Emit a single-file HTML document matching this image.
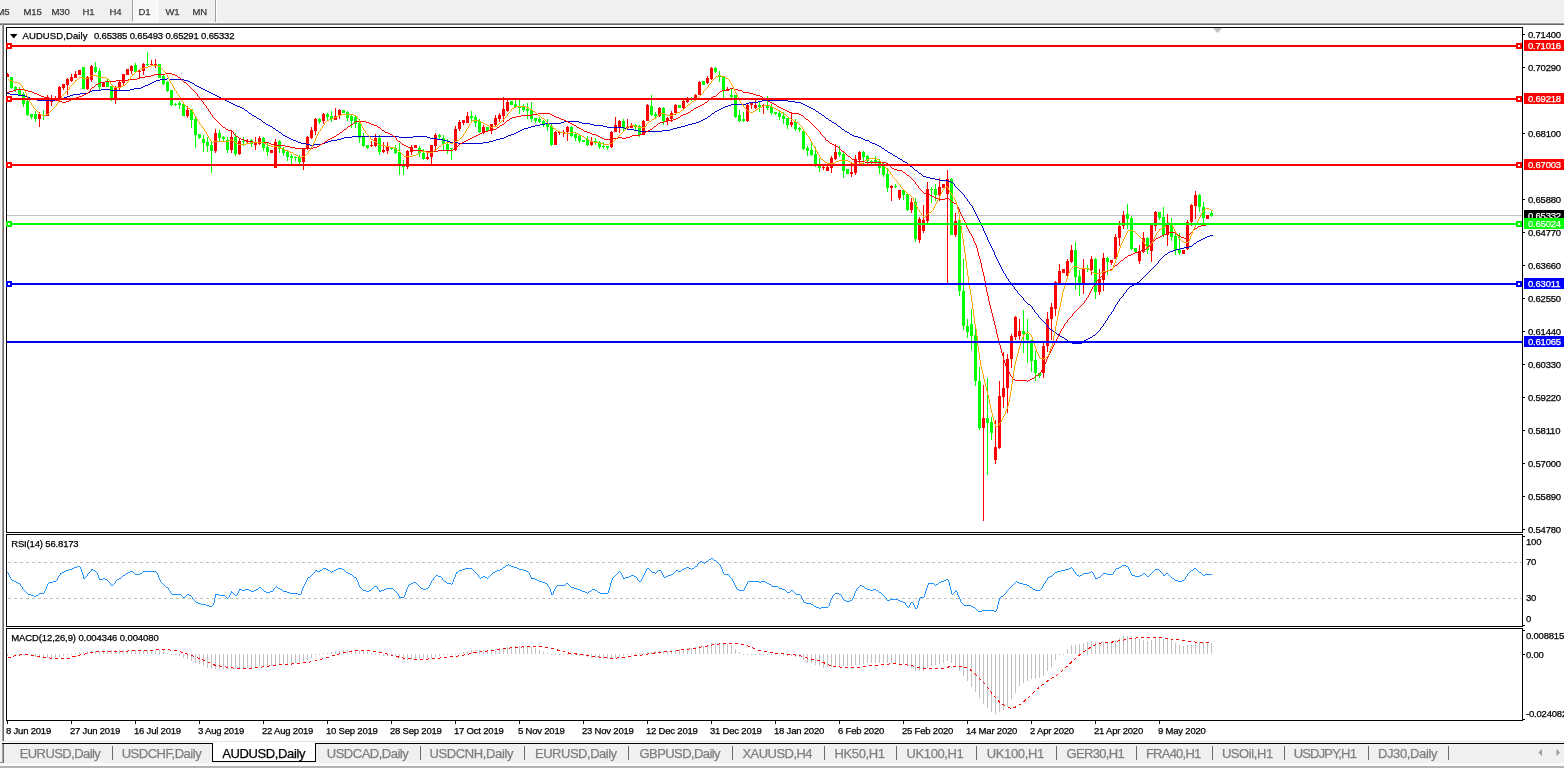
<!DOCTYPE html>
<html><head><meta charset="utf-8"><title>AUDUSD,Daily</title>
<style>
html,body{margin:0;padding:0;}
body{width:1564px;height:768px;overflow:hidden;background:#fff;position:relative;font-family:"Liberation Sans",sans-serif;}
div,span{position:absolute;box-sizing:border-box;white-space:nowrap;}
span,.lb{-webkit-text-stroke:0.25px currentColor;}
.tb{left:0;top:0;width:1564px;height:23px;background:#f0f0f0;}
.tf{font-size:9.5px;color:#3c3c3c;top:6px;line-height:12px;letter-spacing:-0.1px;}
.fr{border:1px solid #000;left:6px;width:1517px;}
.ax{font-size:9.5px;line-height:11px;color:#000;left:1528px;letter-spacing:-0.2px;}
.tk{background:#000;height:1px;width:2px;left:1523px;}
.lb{left:1524px;width:40px;height:11px;font-size:9.5px;line-height:11px;color:#fff;padding-left:4px;letter-spacing:-0.2px;overflow:hidden;}
.hl{left:7px;width:1515px;height:2px;}
.mk{width:6px;height:6px;border:2px solid;background:#fff;}
.dt{font-size:9.5px;line-height:11px;top:725px;letter-spacing:-0.2px;color:#000;}
.dk{background:#000;width:1px;height:3px;top:721px;}
.bt{font-size:13px;line-height:15px;top:746px;color:#7f7f7f;letter-spacing:-0.62px;}
.bs{background:#6d6d6d;width:1px;height:14px;top:746px;}
.it{font-size:9.5px;line-height:11px;color:#000;}
svg{position:absolute;left:0;top:0;}
</style></head><body>

<div class="tb"></div>
<div style="left:0;top:22px;width:1564px;height:1px;background:#f7f7f7"></div>
<div style="left:0;top:23px;width:1564px;height:1px;background:#a0a0a0"></div>
<div style="left:0;top:24px;width:1564px;height:1px;background:#696969"></div>
<div style="left:0;top:25px;width:1px;height:717px;background:#f0f0f0"></div><div style="left:1px;top:25px;width:1px;height:717px;background:#f8f8f8"></div>
<div style="left:2px;top:24px;width:1px;height:718px;background:#a0a0a0"></div>
<div style="left:3px;top:24px;width:1px;height:718px;background:#696969"></div>
<div style="left:132px;top:0;width:26px;height:22px;background:repeating-conic-gradient(#fff 0% 25%,#f0f0f0 0% 50%) 0 0/2px 2px;border-left:1px solid #a0a0a0;border-right:1px solid #fff;border-bottom:1px solid #fff"></div>
<div style="left:215px;top:0;width:1px;height:22px;background:#a0a0a0"></div>
<div style="left:216px;top:0;width:1px;height:22px;background:#fff"></div>
<span class="tf" style="left:-3.5px">M5</span>
<span class="tf" style="left:23.5px">M15</span>
<span class="tf" style="left:51.5px">M30</span>
<span class="tf" style="left:82.5px">H1</span>
<span class="tf" style="left:109.5px">H4</span>
<span class="tf" style="left:138.5px">D1</span>
<span class="tf" style="left:165.5px">W1</span>
<span class="tf" style="left:192.5px">MN</span>
<div class="fr" style="top:27px;height:506px"></div>
<div class="fr" style="top:534px;height:93px"></div>
<div class="fr" style="top:628px;height:93px"></div>
<div class="tk" style="top:34px"></div><span class="ax" style="top:29px">0.71400</span>
<div class="tk" style="top:67px"></div><span class="ax" style="top:62px">0.70290</span>
<div class="tk" style="top:133px"></div><span class="ax" style="top:128px">0.68100</span>
<div class="tk" style="top:199px"></div><span class="ax" style="top:194px">0.65880</span>
<div class="tk" style="top:232px"></div><span class="ax" style="top:227px">0.64770</span>
<div class="tk" style="top:265px"></div><span class="ax" style="top:260px">0.63660</span>
<div class="tk" style="top:298px"></div><span class="ax" style="top:293px">0.62550</span>
<div class="tk" style="top:331px"></div><span class="ax" style="top:326px">0.61440</span>
<div class="tk" style="top:364px"></div><span class="ax" style="top:359px">0.60330</span>
<div class="tk" style="top:397px"></div><span class="ax" style="top:392px">0.59220</span>
<div class="tk" style="top:430px"></div><span class="ax" style="top:425px">0.58110</span>
<div class="tk" style="top:463px"></div><span class="ax" style="top:458px">0.57000</span>
<div class="tk" style="top:496px"></div><span class="ax" style="top:491px">0.55890</span>
<div class="tk" style="top:529px"></div><span class="ax" style="top:524px">0.54780</span>
<span class="ax" style="left:1526px;top:536px">100</span>
<span class="ax" style="left:1526px;top:556px">70</span>
<span class="ax" style="left:1526px;top:592px">30</span>
<span class="ax" style="left:1526px;top:613px">0</span>
<span class="ax" style="left:1526px;top:630px">0.008815</span>
<span class="ax" style="left:1526px;top:649px">0.00</span>
<span class="ax" style="left:1526px;top:708px">-0.024082</span>
<div class="tk" style="top:654px;width:2px"></div>
<div class="tk" style="top:536px;width:2px"></div><div class="tk" style="top:625px;width:2px"></div><div class="tk" style="top:630px;width:2px"></div><div class="tk" style="top:719px;width:2px"></div>
<div style="left:7px;top:215px;width:1515px;height:1px;background:#c0c0c0"></div>
<svg width="1564" height="768" viewBox="0 0 1564 768">
<clipPath id="cm"><rect x="7" y="28" width="1515" height="504"/></clipPath>
<g shape-rendering="crispEdges" clip-path="url(#cm)">
<path d="M11,77h1v12h-1zM10,77h3v11h-3zM15,86h1v6h-1zM14,87h3v3h-3zM19,87h1v9h-1zM18,90h3v5h-3zM23,92h1v15h-1zM22,94h3v10h-3zM27,100h1v16h-1zM26,101h3v14h-3zM31,114h1v5h-1zM30,114h3v3h-3zM35,111h1v11h-1zM34,114h3v5h-3zM43,110h1v10h-1zM42,115h3v1h-3zM83,67h1v22h-1zM82,67h3v22h-3zM95,62h1v11h-1zM94,67h3v5h-3zM99,68h1v22h-1zM98,71h3v16h-3zM107,79h1v8h-1zM106,82h3v5h-3zM111,86h1v15h-1zM110,86h3v12h-3zM135,63h1v9h-1zM134,65h3v7h-3zM147,52h1v14h-1zM146,64h3v1h-3zM159,64h1v14h-1zM158,64h3v14h-3zM163,75h1v10h-1zM162,76h3v8h-3zM167,81h1v11h-1zM166,82h3v9h-3zM171,90h1v16h-1zM170,90h3v15h-3zM175,103h1v3h-1zM174,104h3v1h-3zM179,101h1v8h-1zM178,103h3v2h-3zM183,104h1v12h-1zM182,104h3v12h-3zM191,109h1v19h-1zM190,109h3v11h-3zM195,117h1v31h-1zM194,119h3v16h-3zM199,134h1v5h-1zM198,134h3v4h-3zM203,135h1v17h-1zM202,139h3v4h-3zM207,137h1v15h-1zM206,142h3v4h-3zM211,141h1v32h-1zM210,145h3v6h-3zM219,130h1v11h-1zM218,133h3v5h-3zM223,136h1v5h-1zM222,137h3v2h-3zM227,137h1v16h-1zM226,140h3v10h-3zM235,133h1v23h-1zM234,137h3v17h-3zM243,137h1v9h-1zM242,141h3v1h-3zM251,139h1v8h-1zM250,140h3v4h-3zM263,137h1v14h-1zM262,138h3v10h-3zM267,143h1v13h-1zM266,147h3v5h-3zM279,140h1v13h-1zM278,141h3v8h-3zM283,147h1v9h-1zM282,149h3v4h-3zM287,151h1v10h-1zM286,152h3v5h-3zM291,154h1v10h-1zM290,156h3v2h-3zM295,156h1v5h-1zM294,157h3v1h-3zM299,155h1v9h-1zM298,157h3v5h-3zM319,118h1v6h-1zM318,119h3v3h-3zM327,113h1v7h-1zM326,114h3v3h-3zM331,111h1v11h-1zM330,116h3v3h-3zM343,110h1v3h-1zM342,110h3v3h-3zM347,111h1v10h-1zM346,112h3v6h-3zM351,115h1v13h-1zM350,116h3v5h-3zM355,115h1v13h-1zM354,117h3v7h-3zM359,119h1v24h-1zM358,123h3v15h-3zM363,133h1v14h-1zM362,136h3v10h-3zM367,145h1v4h-1zM366,145h3v3h-3zM379,135h1v20h-1zM378,138h3v14h-3zM391,147h1v3h-1zM390,147h3v2h-3zM395,145h1v9h-1zM394,148h3v5h-3zM399,143h1v32h-1zM398,152h3v12h-3zM403,160h1v15h-1zM402,164h3v3h-3zM419,146h1v11h-1zM418,148h3v5h-3zM423,149h1v11h-1zM422,153h3v6h-3zM439,134h1v5h-1zM438,135h3v2h-3zM443,135h1v15h-1zM442,138h3v6h-3zM447,139h1v15h-1zM446,144h3v7h-3zM451,148h1v12h-1zM450,148h3v1h-3zM471,111h1v10h-1zM470,116h3v2h-3zM475,115h1v12h-1zM474,117h3v6h-3zM479,119h1v14h-1zM478,121h3v11h-3zM487,127h1v4h-1zM486,127h3v4h-3zM511,101h1v4h-1zM510,101h3v4h-3zM515,100h1v7h-1zM514,104h3v3h-3zM519,100h1v14h-1zM518,106h3v2h-3zM523,104h1v8h-1zM522,107h3v3h-3zM527,103h1v16h-1zM526,109h3v2h-3zM531,102h1v20h-1zM530,110h3v9h-3zM535,118h1v5h-1zM534,118h3v3h-3zM539,117h1v6h-1zM538,119h3v3h-3zM543,120h1v7h-1zM542,121h3v3h-3zM547,119h1v12h-1zM546,123h3v4h-3zM551,124h1v22h-1zM550,126h3v19h-3zM571,126h1v11h-1zM570,127h3v9h-3zM575,132h1v9h-1zM574,134h3v4h-3zM579,134h1v9h-1zM578,136h3v5h-3zM583,140h1v2h-1zM582,140h3v2h-3zM587,136h1v10h-1zM586,139h3v6h-3zM595,138h1v7h-1zM594,141h3v1h-3zM599,141h1v8h-1zM598,142h3v5h-3zM603,142h1v7h-1zM602,146h3v1h-3zM607,146h1v4h-1zM606,146h3v2h-3zM623,119h1v12h-1zM622,121h3v7h-3zM635,124h1v6h-1zM634,125h3v2h-3zM639,125h1v12h-1zM638,126h3v9h-3zM651,95h1v21h-1zM650,106h3v9h-3zM655,112h1v6h-1zM654,114h3v2h-3zM663,107h1v18h-1zM662,108h3v13h-3zM679,105h1v3h-1zM678,105h3v3h-3zM691,97h1v4h-1zM690,98h3v1h-3zM703,81h1v4h-1zM702,81h3v4h-3zM715,67h1v6h-1zM714,68h3v4h-3zM719,71h1v11h-1zM718,75h3v2h-3zM723,76h1v22h-1zM722,76h3v14h-3zM731,89h1v9h-1zM730,95h3v2h-3zM735,95h1v23h-1zM734,95h3v22h-3zM739,110h1v12h-1zM738,115h3v6h-3zM743,112h1v10h-1zM742,119h3v2h-3zM759,102h1v10h-1zM758,105h3v2h-3zM767,96h1v14h-1zM766,106h3v2h-3zM771,104h1v11h-1zM770,107h3v6h-3zM775,112h1v3h-1zM774,112h3v2h-3zM779,111h1v9h-1zM778,113h3v4h-3zM783,112h1v12h-1zM782,116h3v3h-3zM787,118h1v11h-1zM786,118h3v7h-3zM795,119h1v12h-1zM794,122h3v7h-3zM799,127h1v5h-1zM798,128h3v2h-3zM803,131h1v19h-1zM802,131h3v18h-3zM807,146h1v10h-1zM806,148h3v3h-3zM811,143h1v13h-1zM810,150h3v5h-3zM815,147h1v20h-1zM814,154h3v11h-3zM819,158h1v14h-1zM818,166h3v2h-3zM839,146h1v11h-1zM838,152h3v3h-3zM843,152h1v26h-1zM842,154h3v17h-3zM847,169h1v5h-1zM846,169h3v5h-3zM863,151h1v13h-1zM862,152h3v5h-3zM867,155h1v9h-1zM866,156h3v5h-3zM871,160h1v4h-1zM870,161h3v1h-3zM875,156h1v8h-1zM874,160h3v2h-3zM879,159h1v15h-1zM878,161h3v7h-3zM883,163h1v14h-1zM882,166h3v9h-3zM887,168h1v24h-1zM886,174h3v14h-3zM895,184h1v4h-1zM894,186h3v1h-3zM903,190h1v10h-1zM902,190h3v5h-3zM907,194h1v17h-1zM906,194h3v16h-3zM915,198h1v44h-1zM914,202h3v37h-3zM931,187h1v16h-1zM930,189h3v1h-3zM935,184h1v17h-1zM934,189h3v6h-3zM951,178h1v57h-1zM950,179h3v56h-3zM959,219h1v77h-1zM958,220h3v71h-3zM963,259h1v71h-1zM962,291h3v35h-3zM967,319h1v19h-1zM966,326h3v6h-3zM971,309h1v41h-1zM970,324h3v12h-3zM975,328h1v58h-1zM974,335h3v46h-3zM979,367h1v63h-1zM978,381h3v47h-3zM987,378h1v97h-1zM986,418h3v5h-3zM991,417h1v23h-1zM990,422h3v11h-3zM1023,310h1v43h-1zM1022,331h3v3h-3zM1027,319h1v44h-1zM1026,334h3v6h-3zM1031,340h1v32h-1zM1030,340h3v21h-3zM1035,351h1v30h-1zM1034,360h3v13h-3zM1039,373h1v5h-1zM1038,373h3v3h-3zM1075,242h1v48h-1zM1074,250h3v27h-3zM1079,270h1v26h-1zM1078,276h3v8h-3zM1087,265h1v7h-1zM1086,268h3v1h-3zM1095,258h1v41h-1zM1094,259h3v33h-3zM1107,257h1v18h-1zM1106,258h3v4h-3zM1127,204h1v25h-1zM1126,214h3v5h-3zM1131,216h1v34h-1zM1130,218h3v31h-3zM1135,248h1v4h-1zM1134,248h3v4h-3zM1147,237h1v17h-1zM1146,238h3v12h-3zM1159,212h1v8h-1zM1158,212h3v6h-3zM1163,207h1v30h-1zM1162,217h3v18h-3zM1171,218h1v23h-1zM1170,225h3v12h-3zM1175,234h1v21h-1zM1174,236h3v14h-3zM1179,233h1v22h-1zM1178,250h3v3h-3zM1199,194h1v18h-1zM1198,195h3v12h-3zM1203,202h1v21h-1zM1202,207h3v11h-3zM1211,210h1v7h-1zM1210,213h3v3h-3z" fill="#00ff00"/>
<path d="M7,73h1v4h-1zM6,74h3v3h-3zM39,112h1v15h-1zM38,114h3v5h-3zM47,95h1v21h-1zM46,97h3v19h-3zM51,95h1v11h-1zM50,99h3v3h-3zM55,96h1v5h-1zM54,99h3v2h-3zM59,86h1v12h-1zM58,87h3v11h-3zM63,84h1v6h-1zM62,84h3v4h-3zM67,78h1v17h-1zM66,79h3v6h-3zM71,74h1v8h-1zM70,77h3v4h-3zM75,71h1v7h-1zM74,74h3v4h-3zM79,70h1v5h-1zM78,70h3v5h-3zM87,76h1v14h-1zM86,77h3v12h-3zM91,65h1v17h-1zM90,66h3v14h-3zM103,82h1v5h-1zM102,82h3v5h-3zM115,86h1v18h-1zM114,88h3v11h-3zM119,81h1v9h-1zM118,82h3v5h-3zM123,74h1v12h-1zM122,74h3v9h-3zM127,69h1v6h-1zM126,69h3v6h-3zM131,65h1v9h-1zM130,66h3v5h-3zM139,70h1v8h-1zM138,71h3v1h-3zM143,63h1v12h-1zM142,64h3v7h-3zM151,60h1v6h-1zM150,64h3v1h-3zM155,59h1v9h-1zM154,64h3v1h-3zM187,106h1v12h-1zM186,110h3v6h-3zM215,129h1v24h-1zM214,133h3v18h-3zM231,130h1v23h-1zM230,137h3v13h-3zM239,138h1v17h-1zM238,141h3v13h-3zM247,139h1v4h-1zM246,141h3v1h-3zM255,137h1v13h-1zM254,142h3v3h-3zM259,136h1v9h-1zM258,138h3v6h-3zM271,150h1v3h-1zM270,150h3v3h-3zM275,139h1v29h-1zM274,142h3v26h-3zM303,148h1v22h-1zM302,148h3v14h-3zM307,136h1v14h-1zM306,137h3v12h-3zM311,127h1v12h-1zM310,130h3v8h-3zM315,118h1v17h-1zM314,119h3v12h-3zM323,113h1v11h-1zM322,114h3v7h-3zM335,108h1v12h-1zM334,116h3v4h-3zM339,109h1v10h-1zM338,110h3v6h-3zM371,141h1v6h-1zM370,145h3v1h-3zM375,134h1v13h-1zM374,138h3v8h-3zM383,142h1v11h-1zM382,150h3v2h-3zM387,142h1v12h-1zM386,146h3v5h-3zM407,150h1v19h-1zM406,151h3v16h-3zM411,145h1v10h-1zM410,147h3v5h-3zM415,145h1v3h-1zM414,145h3v3h-3zM427,151h1v9h-1zM426,157h3v2h-3zM431,145h1v19h-1zM430,145h3v12h-3zM435,133h1v18h-1zM434,135h3v11h-3zM455,126h1v25h-1zM454,129h3v21h-3zM459,120h1v11h-1zM458,122h3v7h-3zM463,120h1v5h-1zM462,120h3v3h-3zM467,112h1v11h-1zM466,116h3v7h-3zM483,125h1v9h-1zM482,127h3v6h-3zM491,124h1v10h-1zM490,124h3v7h-3zM495,115h1v11h-1zM494,118h3v7h-3zM499,113h1v9h-1zM498,115h3v4h-3zM503,97h1v25h-1zM502,109h3v7h-3zM507,100h1v12h-1zM506,102h3v9h-3zM555,131h1v14h-1zM554,132h3v13h-3zM559,131h1v4h-1zM558,132h3v1h-3zM563,130h1v7h-1zM562,132h3v1h-3zM567,126h1v15h-1zM566,127h3v5h-3zM591,137h1v9h-1zM590,141h3v4h-3zM611,131h1v17h-1zM610,132h3v15h-3zM615,117h1v15h-1zM614,125h3v7h-3zM619,120h1v13h-1zM618,121h3v6h-3zM627,119h1v10h-1zM626,127h3v1h-3zM631,123h1v5h-1zM630,126h3v2h-3zM643,120h1v15h-1zM642,121h3v14h-3zM647,104h1v17h-1zM646,105h3v16h-3zM659,107h1v10h-1zM658,108h3v8h-3zM667,117h1v8h-1zM666,118h3v3h-3zM671,111h1v11h-1zM670,113h3v6h-3zM675,104h1v11h-1zM674,105h3v8h-3zM683,100h1v9h-1zM682,101h3v7h-3zM687,97h1v6h-1zM686,98h3v4h-3zM695,94h1v7h-1zM694,95h3v5h-3zM699,81h1v14h-1zM698,82h3v13h-3zM707,76h1v8h-1zM706,78h3v5h-3zM711,67h1v13h-1zM710,68h3v11h-3zM727,87h1v4h-1zM726,89h3v2h-3zM747,104h1v18h-1zM746,105h3v16h-3zM751,103h1v6h-1zM750,103h3v2h-3zM755,100h1v9h-1zM754,105h3v3h-3zM763,104h1v10h-1zM762,105h3v1h-3zM791,112h1v15h-1zM790,122h3v3h-3zM823,166h1v4h-1zM822,167h3v1h-3zM827,163h1v8h-1zM826,167h3v4h-3zM831,156h1v17h-1zM830,158h3v10h-3zM835,144h1v16h-1zM834,152h3v7h-3zM851,163h1v14h-1zM850,172h3v2h-3zM855,155h1v20h-1zM854,159h3v14h-3zM859,151h1v13h-1zM858,152h3v8h-3zM891,185h1v16h-1zM890,186h3v2h-3zM899,190h1v10h-1zM898,190h3v8h-3zM911,198h1v15h-1zM910,202h3v8h-3zM919,217h1v26h-1zM918,219h3v21h-3zM923,205h1v28h-1zM922,220h3v11h-3zM927,182h1v41h-1zM926,189h3v32h-3zM939,178h1v23h-1zM938,187h3v8h-3zM943,184h1v4h-1zM942,184h3v4h-3zM947,170h1v113h-1zM946,179h3v15h-3zM955,213h1v24h-1zM954,221h3v14h-3zM983,385h1v136h-1zM982,418h3v10h-3zM995,420h1v44h-1zM994,447h3v13h-3zM999,381h1v68h-1zM998,396h3v52h-3zM1003,352h1v56h-1zM1002,388h3v9h-3zM1007,354h1v59h-1zM1006,359h3v29h-3zM1011,334h1v34h-1zM1010,336h3v23h-3zM1015,316h1v24h-1zM1014,317h3v20h-3zM1019,319h1v21h-1zM1018,331h3v5h-3zM1043,343h1v35h-1zM1042,346h3v27h-3zM1047,312h1v40h-1zM1046,319h3v27h-3zM1051,303h1v37h-1zM1050,307h3v12h-3zM1055,281h1v35h-1zM1054,282h3v27h-3zM1059,264h1v20h-1zM1058,271h3v12h-3zM1063,269h1v4h-1zM1062,269h3v4h-3zM1067,259h1v18h-1zM1066,261h3v15h-3zM1071,245h1v18h-1zM1070,250h3v12h-3zM1083,259h1v35h-1zM1082,269h3v15h-3zM1091,256h1v19h-1zM1090,259h3v11h-3zM1099,269h1v26h-1zM1098,279h3v13h-3zM1103,253h1v38h-1zM1102,258h3v22h-3zM1111,260h1v5h-1zM1110,260h3v3h-3zM1115,234h1v25h-1zM1114,237h3v22h-3zM1119,221h1v25h-1zM1118,226h3v12h-3zM1123,211h1v18h-1zM1122,215h3v11h-3zM1139,245h1v19h-1zM1138,251h3v10h-3zM1143,232h1v21h-1zM1142,238h3v14h-3zM1151,225h1v37h-1zM1150,225h3v26h-3zM1155,211h1v20h-1zM1154,212h3v14h-3zM1167,214h1v32h-1zM1166,225h3v10h-3zM1183,250h1v4h-1zM1182,250h3v4h-3zM1187,220h1v30h-1zM1186,222h3v27h-3zM1191,204h1v22h-1zM1190,205h3v17h-3zM1195,191h1v28h-1zM1194,195h3v11h-3zM1207,215h1v4h-1zM1206,215h3v4h-3z" fill="#ff0000"/>
</g>
<g shape-rendering="crispEdges" clip-path="url(#cm)">
<path d="M7,93h3v1h-3zM10,94h8v1h-8zM18,95h7v1h-7zM25,96h2v1h-2zM27,97h3v1h-3zM30,98h3v1h-3zM33,99h4v1h-4zM37,100h19v1h-19zM56,99h5v1h-5zM61,98h3v1h-3zM64,97h3v1h-3zM67,96h3v1h-3zM70,95h3v1h-3zM73,94h7v1h-7zM80,93h8v1h-8zM88,92h2v1h-2zM90,91h2v1h-2zM92,90h9v1h-9zM101,89h9v1h-9zM110,90h20v1h-20zM130,89h4v1h-4zM134,88h7v1h-7zM141,87h2v1h-2zM143,86h2v1h-2zM145,85h3v1h-3zM148,84h2v1h-2zM150,83h2v1h-2zM152,82h2v1h-2zM154,81h2v1h-2zM156,80h4v1h-4zM160,79h7v1h-7zM167,78h2v1h-2zM169,79h15v1h-15zM184,80h4v1h-4zM188,81h2v1h-2zM190,82h2v1h-2zM192,83h2v1h-2zM194,84h1v1h-1zM195,85h2v1h-2zM197,86h2v1h-2zM199,87h2v1h-2zM201,88h2v1h-2zM203,89h2v1h-2zM205,90h2v1h-2zM207,91h2v1h-2zM209,92h2v1h-2zM211,93h2v1h-2zM213,94h2v1h-2zM215,95h2v1h-2zM217,96h2v1h-2zM219,97h2v1h-2zM221,98h2v1h-2zM223,99h2v1h-2zM225,100h2v1h-2zM227,101h2v1h-2zM229,102h2v1h-2zM231,103h2v1h-2zM233,104h2v1h-2zM235,105h2v1h-2zM237,106h3v1h-3zM240,107h2v1h-2zM242,108h2v1h-2zM244,109h1v1h-1zM245,110h2v1h-2zM247,111h1v1h-1zM248,112h1v1h-1zM249,113h2v1h-2zM251,114h1v1h-1zM252,115h2v1h-2zM254,116h2v1h-2zM256,117h1v1h-1zM257,118h2v1h-2zM259,119h2v1h-2zM261,120h1v1h-1zM262,121h1v1h-1zM263,122h2v1h-2zM265,123h1v1h-1zM266,124h2v1h-2zM268,125h2v1h-2zM270,126h2v1h-2zM272,127h1v1h-1zM273,128h2v1h-2zM275,129h1v1h-1zM276,130h2v1h-2zM278,131h1v1h-1zM279,132h2v1h-2zM281,133h1v1h-1zM282,134h1v1h-1zM283,135h2v1h-2zM285,136h2v1h-2zM287,137h2v1h-2zM289,138h2v1h-2zM291,139h2v1h-2zM293,140h3v1h-3zM296,141h2v1h-2zM298,142h3v1h-3zM301,143h5v1h-5zM306,144h4v1h-4zM310,145h4v1h-4zM314,144h8v1h-8zM322,143h3v1h-3zM325,142h3v1h-3zM328,141h3v1h-3zM331,140h6v1h-6zM337,139h4v1h-4zM341,138h3v1h-3zM344,137h8v1h-8zM352,136h47v1h-47zM399,137h14v1h-14zM413,136h14v1h-14zM427,137h3v1h-3zM430,138h7v1h-7zM437,139h6v1h-6zM443,140h4v1h-4zM447,141h3v1h-3zM450,142h8v1h-8zM458,143h25v1h-25zM483,142h6v1h-6zM489,141h4v1h-4zM493,140h3v1h-3zM496,139h4v1h-4zM500,138h4v1h-4zM504,137h2v1h-2zM506,136h2v1h-2zM508,135h3v1h-3zM511,134h3v1h-3zM514,133h2v1h-2zM516,132h2v1h-2zM518,131h2v1h-2zM520,130h2v1h-2zM522,129h2v1h-2zM524,128h4v1h-4zM528,127h3v1h-3zM531,126h4v1h-4zM535,125h5v1h-5zM540,124h5v1h-5zM545,123h16v1h-16zM561,122h3v1h-3zM564,121h15v1h-15zM579,122h3v1h-3zM582,123h8v1h-8zM590,124h4v1h-4zM594,125h9v1h-9zM603,126h4v1h-4zM607,127h17v1h-17zM624,128h3v1h-3zM627,129h7v1h-7zM634,130h5v1h-5zM639,131h23v1h-23zM662,130h8v1h-8zM670,129h3v1h-3zM673,128h4v1h-4zM677,127h4v1h-4zM681,126h4v1h-4zM685,125h3v1h-3zM688,124h4v1h-4zM692,123h4v1h-4zM696,122h3v1h-3zM699,121h2v1h-2zM701,120h2v1h-2zM703,119h2v1h-2zM705,118h2v1h-2zM707,117h1v1h-1zM708,116h2v1h-2zM710,115h1v1h-1zM711,114h1v1h-1zM712,113h2v1h-2zM714,112h1v1h-1zM715,111h2v1h-2zM717,110h2v1h-2zM719,109h2v1h-2zM721,108h2v1h-2zM723,107h2v1h-2zM725,106h3v1h-3zM728,105h3v1h-3zM731,104h15v1h-15zM746,103h3v1h-3zM749,102h9v1h-9zM758,101h4v1h-4zM762,100h26v1h-26zM788,101h7v1h-7zM795,102h6v1h-6zM801,103h2v1h-2zM803,104h2v1h-2zM805,105h2v1h-2zM807,106h2v1h-2zM809,107h2v1h-2zM811,108h2v1h-2zM813,109h2v1h-2zM815,110h1v1h-1zM816,111h2v1h-2zM818,112h1v1h-1zM819,113h2v1h-2zM821,114h1v1h-1zM822,115h2v1h-2zM824,116h1v1h-1zM825,117h1v1h-1zM826,118h2v1h-2zM828,119h1v1h-1zM829,120h2v1h-2zM831,121h1v1h-1zM832,122h2v1h-2zM834,123h2v1h-2zM836,124h1v1h-1zM837,125h1v1h-1zM838,126h2v1h-2zM840,127h1v1h-1zM841,128h1v1h-1zM842,129h2v1h-2zM844,130h1v1h-1zM845,131h2v1h-2zM847,132h2v1h-2zM849,133h1v1h-1zM850,134h2v1h-2zM852,135h2v1h-2zM854,136h4v1h-4zM858,137h3v1h-3zM861,138h2v1h-2zM863,139h2v1h-2zM865,140h4v1h-4zM869,141h1v1h-1zM870,142h2v1h-2zM872,143h3v1h-3zM875,144h2v1h-2zM877,145h2v1h-2zM879,146h2v1h-2zM881,147h1v1h-1zM882,148h2v1h-2zM884,149h1v1h-1zM885,150h2v1h-2zM887,151h1v1h-1zM888,152h2v1h-2zM890,153h2v1h-2zM892,154h1v1h-1zM893,155h2v1h-2zM895,156h2v1h-2zM897,157h1v1h-1zM898,158h2v1h-2zM900,159h2v1h-2zM902,160h1v1h-1zM903,161h2v1h-2zM905,162h2v1h-2zM907,163h1v1h-1zM908,164h1v1h-1zM909,165h1v1h-1zM910,166h2v1h-2zM912,167h1v1h-1zM913,168h1v1h-1zM914,169h1v1h-1zM915,170h2v1h-2zM917,171h1v1h-1zM918,172h1v1h-1zM919,173h2v1h-2zM921,174h1v1h-1zM922,175h1v1h-1zM923,176h3v1h-3zM926,177h4v1h-4zM930,178h5v1h-5zM935,179h4v1h-4zM939,180h9v1h-9zM948,181h3v1h-3zM951,182h2v1h-2zM953,183h1v1h-1zM954,184h1v2h-1zM955,186h1v1h-1zM956,187h1v1h-1zM957,188h1v1h-1zM958,189h1v1h-1zM959,190h1v1h-1zM960,191h1v1h-1zM961,192h1v1h-1zM962,193h1v1h-1zM963,194h1v1h-1zM964,195h1v2h-1zM965,197h1v1h-1zM966,198h1v1h-1zM967,199h1v2h-1zM968,201h1v1h-1zM969,202h1v2h-1zM970,204h1v1h-1zM971,205h1v1h-1zM972,206h1v2h-1zM973,208h1v2h-1zM974,210h1v2h-1zM975,212h1v2h-1zM976,214h1v2h-1zM977,216h1v2h-1zM978,218h1v2h-1zM979,220h1v2h-1zM980,222h1v2h-1zM981,224h1v2h-1zM982,226h1v2h-1zM983,228h1v3h-1zM984,231h1v2h-1zM985,233h1v2h-1zM986,235h1v2h-1zM987,237h1v3h-1zM988,240h1v2h-1zM989,242h1v2h-1zM990,244h1v2h-1zM991,246h1v2h-1zM992,248h1v2h-1zM993,250h1v2h-1zM994,252h1v3h-1zM995,255h1v2h-1zM996,257h1v2h-1zM997,259h1v2h-1zM998,261h1v2h-1zM999,263h1v2h-1zM1000,265h1v2h-1zM1001,267h1v2h-1zM1002,269h1v2h-1zM1003,271h1v2h-1zM1004,273h1v1h-1zM1005,274h1v2h-1zM1006,276h1v2h-1zM1007,278h1v1h-1zM1008,279h1v2h-1zM1009,281h1v1h-1zM1010,282h1v1h-1zM1011,283h1v2h-1zM1012,285h1v1h-1zM1013,286h1v1h-1zM1014,287h1v2h-1zM1015,289h1v1h-1zM1016,290h1v1h-1zM1017,291h1v2h-1zM1018,293h1v1h-1zM1019,294h1v1h-1zM1020,295h1v1h-1zM1021,296h1v1h-1zM1022,297h1v1h-1zM1023,298h1v2h-1zM1024,300h1v1h-1zM1025,301h1v1h-1zM1026,302h1v1h-1zM1027,303h1v1h-1zM1028,304h2v1h-2zM1030,305h1v1h-1zM1031,306h1v1h-1zM1032,307h1v2h-1zM1033,309h1v1h-1zM1034,310h1v2h-1zM1035,312h1v1h-1zM1036,313h1v1h-1zM1037,314h1v1h-1zM1038,315h1v2h-1zM1039,317h1v1h-1zM1040,318h1v1h-1zM1041,319h1v1h-1zM1042,320h1v1h-1zM1043,321h1v1h-1zM1044,322h1v1h-1zM1045,323h1v1h-1zM1046,324h1v1h-1zM1047,325h1v2h-1zM1048,327h1v1h-1zM1049,328h1v1h-1zM1050,329h2v1h-2zM1052,330h1v1h-1zM1053,331h1v1h-1zM1054,332h2v1h-2zM1056,333h1v1h-1zM1057,334h2v1h-2zM1059,335h1v1h-1zM1060,336h2v1h-2zM1062,337h2v1h-2zM1064,338h1v1h-1zM1065,339h2v1h-2zM1067,340h1v1h-1zM1068,341h2v1h-2zM1070,342h2v1h-2zM1072,343h10v1h-10zM1082,342h1v1h-1zM1083,341h1v1h-1zM1084,340h2v1h-2zM1086,339h2v1h-2zM1088,338h2v1h-2zM1090,337h2v1h-2zM1092,336h1v1h-1zM1093,335h2v1h-2zM1095,334h1v1h-1zM1096,333h1v1h-1zM1097,332h1v1h-1zM1098,331h1v1h-1zM1099,330h1v1h-1zM1100,328h1v2h-1zM1101,327h1v1h-1zM1102,326h1v1h-1zM1103,324h1v2h-1zM1104,323h1v1h-1zM1105,321h1v2h-1zM1106,320h1v1h-1zM1107,318h1v2h-1zM1108,316h1v2h-1zM1109,315h1v1h-1zM1110,314h1v1h-1zM1111,312h1v2h-1zM1112,311h1v1h-1zM1113,309h1v2h-1zM1114,307h1v2h-1zM1115,305h1v2h-1zM1116,304h1v1h-1zM1117,302h1v2h-1zM1118,301h1v1h-1zM1119,299h1v2h-1zM1120,298h1v1h-1zM1121,297h1v1h-1zM1122,296h1v1h-1zM1123,294h1v2h-1zM1124,293h1v1h-1zM1125,292h1v1h-1zM1126,290h1v2h-1zM1127,289h1v1h-1zM1128,288h1v1h-1zM1129,287h1v1h-1zM1130,286h2v1h-2zM1132,285h2v1h-2zM1134,284h2v1h-2zM1136,283h1v1h-1zM1137,282h2v1h-2zM1139,281h1v1h-1zM1140,280h1v1h-1zM1141,279h1v1h-1zM1142,278h1v1h-1zM1143,277h1v1h-1zM1144,276h1v1h-1zM1145,275h1v1h-1zM1146,274h1v1h-1zM1147,273h1v1h-1zM1148,272h1v1h-1zM1149,271h1v1h-1zM1150,270h1v1h-1zM1151,269h1v1h-1zM1152,268h1v1h-1zM1153,267h1v1h-1zM1154,266h1v1h-1zM1155,265h1v1h-1zM1156,264h1v1h-1zM1157,263h1v1h-1zM1158,261h1v2h-1zM1159,260h1v1h-1zM1160,259h1v1h-1zM1161,258h1v1h-1zM1162,257h1v1h-1zM1163,256h1v1h-1zM1164,255h1v1h-1zM1165,254h2v1h-2zM1167,253h1v1h-1zM1168,252h2v1h-2zM1170,251h3v1h-3zM1173,250h3v1h-3zM1176,249h4v1h-4zM1180,248h4v1h-4zM1184,247h5v1h-5zM1189,246h3v1h-3zM1192,245h1v1h-1zM1193,244h1v1h-1zM1194,243h2v1h-2zM1196,242h1v1h-1zM1197,241h2v1h-2zM1199,240h2v1h-2zM1201,239h2v1h-2zM1203,238h2v1h-2zM1205,237h2v1h-2zM1207,236h3v1h-3zM1210,235h3v1h-3z" fill="#0000cd"/>
<path d="M7,92h2v1h-2zM9,91h4v1h-4zM13,90h3v1h-3zM16,89h8v1h-8zM24,90h4v1h-4zM28,91h4v1h-4zM32,92h2v1h-2zM34,93h3v1h-3zM37,94h2v1h-2zM39,95h2v1h-2zM41,96h3v1h-3zM44,97h3v1h-3zM47,98h4v1h-4zM51,99h4v1h-4zM55,100h4v1h-4zM59,101h3v1h-3zM62,102h4v1h-4zM66,101h3v1h-3zM69,100h2v1h-2zM71,99h3v1h-3zM74,98h2v1h-2zM76,97h3v1h-3zM79,96h3v1h-3zM82,95h2v1h-2zM84,94h2v1h-2zM86,93h2v1h-2zM88,92h1v1h-1zM89,91h1v1h-1zM90,89h1v2h-1zM91,88h1v1h-1zM92,87h2v1h-2zM94,86h1v1h-1zM95,85h1v1h-1zM96,84h2v1h-2zM98,83h2v1h-2zM100,82h5v1h-5zM105,81h11v1h-11zM116,80h12v1h-12zM128,79h9v1h-9zM137,78h3v1h-3zM140,77h5v1h-5zM145,76h6v1h-6zM151,75h3v1h-3zM154,74h11v1h-11zM165,73h7v1h-7zM172,74h3v1h-3zM175,75h2v1h-2zM177,76h1v1h-1zM178,77h2v1h-2zM180,78h1v1h-1zM181,79h1v1h-1zM182,80h1v1h-1zM183,81h1v1h-1zM184,82h2v1h-2zM186,83h1v1h-1zM187,84h1v1h-1zM188,85h1v1h-1zM189,86h1v1h-1zM190,87h1v1h-1zM191,88h1v1h-1zM192,89h1v1h-1zM193,90h1v1h-1zM194,91h1v1h-1zM195,92h1v1h-1zM196,93h1v1h-1zM197,94h1v2h-1zM198,96h1v1h-1zM199,97h1v1h-1zM200,98h1v2h-1zM201,100h1v1h-1zM202,101h1v1h-1zM203,102h1v2h-1zM204,104h1v1h-1zM205,105h1v1h-1zM206,106h1v2h-1zM207,108h1v1h-1zM208,109h1v2h-1zM209,111h1v1h-1zM210,112h1v2h-1zM211,114h1v1h-1zM212,115h1v2h-1zM213,117h1v1h-1zM214,118h1v1h-1zM215,119h1v1h-1zM216,120h1v1h-1zM217,121h1v1h-1zM218,122h1v1h-1zM219,123h1v1h-1zM220,124h1v1h-1zM221,125h1v1h-1zM222,126h1v1h-1zM223,127h2v1h-2zM225,128h1v1h-1zM226,129h2v1h-2zM228,130h4v1h-4zM232,131h1v1h-1zM233,132h1v2h-1zM234,134h1v1h-1zM235,135h1v1h-1zM236,136h2v1h-2zM238,137h1v1h-1zM239,138h2v1h-2zM241,139h3v1h-3zM244,140h3v1h-3zM247,141h6v1h-6zM253,142h16v1h-16zM269,143h2v1h-2zM271,144h6v1h-6zM277,145h8v1h-8zM285,146h5v1h-5zM290,147h5v1h-5zM295,148h18v1h-18zM313,147h4v1h-4zM317,146h2v1h-2zM319,145h1v1h-1zM320,144h2v1h-2zM322,143h2v1h-2zM324,142h1v1h-1zM325,141h2v1h-2zM327,140h1v1h-1zM328,139h2v1h-2zM330,138h2v1h-2zM332,137h2v1h-2zM334,136h2v1h-2zM336,135h1v1h-1zM337,134h2v1h-2zM339,133h1v1h-1zM340,132h2v1h-2zM342,131h1v1h-1zM343,130h1v1h-1zM344,129h2v1h-2zM346,128h1v1h-1zM347,127h1v1h-1zM348,126h2v1h-2zM350,125h1v1h-1zM351,124h2v1h-2zM353,123h1v1h-1zM354,122h1v1h-1zM355,121h11v1h-11zM366,122h3v1h-3zM369,123h2v1h-2zM371,124h3v1h-3zM374,125h3v1h-3zM377,126h1v1h-1zM378,127h2v1h-2zM380,128h1v1h-1zM381,129h1v1h-1zM382,130h2v1h-2zM384,131h1v1h-1zM385,132h3v1h-3zM388,133h2v1h-2zM390,134h2v1h-2zM392,135h1v1h-1zM393,136h2v1h-2zM395,137h1v1h-1zM396,138h1v2h-1zM397,140h1v1h-1zM398,141h2v1h-2zM400,142h1v1h-1zM401,143h1v1h-1zM402,144h2v1h-2zM404,145h2v1h-2zM406,146h2v1h-2zM408,147h2v1h-2zM410,148h2v1h-2zM412,149h1v1h-1zM413,150h10v1h-10zM423,151h15v1h-15zM438,150h15v1h-15zM453,149h1v1h-1zM454,148h2v1h-2zM456,147h1v1h-1zM457,146h1v1h-1zM458,145h1v1h-1zM459,144h1v1h-1zM460,143h2v1h-2zM462,142h2v1h-2zM464,141h2v1h-2zM466,140h2v1h-2zM468,139h2v1h-2zM470,138h2v1h-2zM472,137h2v1h-2zM474,136h2v1h-2zM476,135h2v1h-2zM478,134h2v1h-2zM480,133h2v1h-2zM482,132h3v1h-3zM485,131h3v1h-3zM488,130h4v1h-4zM492,129h4v1h-4zM496,128h1v1h-1zM497,127h2v1h-2zM499,126h1v1h-1zM500,125h2v1h-2zM502,124h2v1h-2zM504,123h1v1h-1zM505,122h1v1h-1zM506,121h1v1h-1zM507,120h2v1h-2zM509,119h1v1h-1zM510,118h2v1h-2zM512,117h4v1h-4zM516,116h5v1h-5zM521,115h11v1h-11zM532,114h6v1h-6zM538,113h12v1h-12zM550,114h2v1h-2zM552,115h2v1h-2zM554,116h2v1h-2zM556,117h3v1h-3zM559,118h2v1h-2zM561,119h3v1h-3zM564,120h2v1h-2zM566,121h2v1h-2zM568,122h2v1h-2zM570,123h2v1h-2zM572,124h2v1h-2zM574,125h2v1h-2zM576,126h1v1h-1zM577,127h2v1h-2zM579,128h2v1h-2zM581,129h2v1h-2zM583,130h1v1h-1zM584,131h3v1h-3zM587,132h3v1h-3zM590,133h2v1h-2zM592,134h4v1h-4zM596,135h2v1h-2zM598,136h2v1h-2zM600,137h2v1h-2zM602,138h2v1h-2zM604,139h9v1h-9zM613,138h5v1h-5zM618,137h4v1h-4zM622,138h4v1h-4zM626,137h4v1h-4zM630,136h2v1h-2zM632,135h8v1h-8zM640,134h3v1h-3zM643,133h2v1h-2zM645,132h1v1h-1zM646,131h2v1h-2zM648,130h2v1h-2zM650,129h2v1h-2zM652,128h1v1h-1zM653,127h1v1h-1zM654,126h2v1h-2zM656,125h1v1h-1zM657,124h1v1h-1zM658,123h2v1h-2zM660,122h4v1h-4zM664,121h3v1h-3zM667,120h6v1h-6zM673,119h3v1h-3zM676,118h2v1h-2zM678,117h2v1h-2zM680,116h1v1h-1zM681,115h2v1h-2zM683,114h3v1h-3zM686,113h2v1h-2zM688,112h2v1h-2zM690,111h1v1h-1zM691,110h2v1h-2zM693,109h1v1h-1zM694,108h2v1h-2zM696,107h2v1h-2zM698,106h2v1h-2zM700,105h2v1h-2zM702,104h2v1h-2zM704,103h1v1h-1zM705,102h2v1h-2zM707,101h1v1h-1zM708,100h1v1h-1zM709,99h1v1h-1zM710,98h1v1h-1zM711,97h2v1h-2zM713,96h3v1h-3zM716,95h1v1h-1zM717,94h1v1h-1zM718,93h1v1h-1zM719,92h1v1h-1zM720,91h2v1h-2zM722,90h4v1h-4zM726,89h4v1h-4zM730,88h4v1h-4zM734,89h4v1h-4zM738,90h4v1h-4zM742,91h1v1h-1zM743,92h6v1h-6zM749,93h4v1h-4zM753,94h3v1h-3zM756,95h4v1h-4zM760,96h2v1h-2zM762,97h1v1h-1zM763,98h2v1h-2zM765,99h2v1h-2zM767,100h1v1h-1zM768,101h2v1h-2zM770,102h2v1h-2zM772,103h2v1h-2zM774,104h2v1h-2zM776,105h1v1h-1zM777,106h2v1h-2zM779,107h2v1h-2zM781,108h2v1h-2zM783,109h2v1h-2zM785,110h2v1h-2zM787,111h2v1h-2zM789,112h3v1h-3zM792,113h7v1h-7zM799,114h2v1h-2zM801,115h2v1h-2zM803,116h1v1h-1zM804,117h1v1h-1zM805,118h1v1h-1zM806,119h2v1h-2zM808,120h1v1h-1zM809,121h1v1h-1zM810,122h1v1h-1zM811,123h1v1h-1zM812,124h1v1h-1zM813,125h1v1h-1zM814,126h1v1h-1zM815,127h1v1h-1zM816,128h1v1h-1zM817,129h1v1h-1zM818,130h1v1h-1zM819,131h1v1h-1zM820,132h1v2h-1zM821,134h1v1h-1zM822,135h1v1h-1zM823,136h1v1h-1zM824,137h1v1h-1zM825,138h1v2h-1zM826,140h2v1h-2zM828,141h1v1h-1zM829,142h1v1h-1zM830,143h2v1h-2zM832,144h2v1h-2zM834,145h2v1h-2zM836,146h2v1h-2zM838,147h1v1h-1zM839,148h1v1h-1zM840,149h1v1h-1zM841,150h1v1h-1zM842,151h2v1h-2zM844,152h1v1h-1zM845,153h1v1h-1zM846,154h1v1h-1zM847,155h1v1h-1zM848,156h2v1h-2zM850,157h1v1h-1zM851,158h1v1h-1zM852,159h2v1h-2zM854,160h3v1h-3zM857,161h8v1h-8zM865,162h21v1h-21zM886,163h2v1h-2zM888,164h1v1h-1zM889,165h1v1h-1zM890,166h1v1h-1zM891,167h1v1h-1zM892,168h2v1h-2zM894,169h3v1h-3zM897,170h5v1h-5zM902,171h1v1h-1zM903,172h2v1h-2zM905,173h1v1h-1zM906,174h1v1h-1zM907,175h2v1h-2zM909,176h1v1h-1zM910,177h1v1h-1zM911,178h1v1h-1zM912,179h1v1h-1zM913,180h1v1h-1zM914,181h1v1h-1zM915,182h1v2h-1zM916,184h1v1h-1zM917,185h1v1h-1zM918,186h1v2h-1zM919,188h1v1h-1zM920,189h1v1h-1zM921,190h1v1h-1zM922,191h1v1h-1zM923,192h1v1h-1zM924,193h5v1h-5zM929,194h1v1h-1zM930,195h2v1h-2zM932,196h2v1h-2zM934,197h2v1h-2zM936,198h3v1h-3zM939,199h6v1h-6zM945,198h4v1h-4zM949,199h1v1h-1zM950,200h1v1h-1zM951,201h1v1h-1zM952,202h2v1h-2zM954,203h2v1h-2zM956,204h1v1h-1zM957,205h1v2h-1zM958,207h1v2h-1zM959,209h1v3h-1zM960,212h1v2h-1zM961,214h1v2h-1zM962,216h1v2h-1zM963,218h1v2h-1zM964,220h1v2h-1zM965,222h1v3h-1zM966,225h1v2h-1zM967,227h1v2h-1zM968,229h1v2h-1zM969,231h1v2h-1zM970,233h1v1h-1zM971,234h1v2h-1zM972,236h1v2h-1zM973,238h1v3h-1zM974,241h1v2h-1zM975,243h1v2h-1zM976,245h1v3h-1zM977,248h1v4h-1zM978,252h1v4h-1zM979,256h1v3h-1zM980,259h1v4h-1zM981,263h1v5h-1zM982,268h1v4h-1zM983,272h1v4h-1zM984,276h1v5h-1zM985,281h1v6h-1zM986,287h1v5h-1zM987,292h1v4h-1zM988,296h1v5h-1zM989,301h1v4h-1zM990,305h1v4h-1zM991,309h1v4h-1zM992,313h1v4h-1zM993,317h1v4h-1zM994,321h1v4h-1zM995,325h1v4h-1zM996,329h1v5h-1zM997,334h1v4h-1zM998,338h1v4h-1zM999,342h1v3h-1zM1000,345h1v4h-1zM1001,349h1v4h-1zM1002,353h1v3h-1zM1003,356h1v4h-1zM1004,360h1v3h-1zM1005,363h1v3h-1zM1006,366h1v2h-1zM1007,368h1v2h-1zM1008,370h1v2h-1zM1009,372h1v2h-1zM1010,374h1v2h-1zM1011,376h1v1h-1zM1012,377h1v2h-1zM1013,379h2v1h-2zM1015,380h12v1h-12zM1027,381h1v1h-1zM1028,380h2v1h-2zM1030,379h2v1h-2zM1032,378h2v1h-2zM1034,377h1v1h-1zM1035,376h1v1h-1zM1036,375h2v1h-2zM1038,374h1v1h-1zM1039,373h1v1h-1zM1040,372h1v1h-1zM1041,370h1v2h-1zM1042,368h1v2h-1zM1043,366h1v2h-1zM1044,364h1v2h-1zM1045,362h1v2h-1zM1046,359h1v3h-1zM1047,357h1v2h-1zM1048,355h1v2h-1zM1049,353h1v2h-1zM1050,351h1v2h-1zM1051,349h1v2h-1zM1052,347h1v2h-1zM1053,345h1v2h-1zM1054,343h1v2h-1zM1055,341h1v2h-1zM1056,339h1v2h-1zM1057,337h1v2h-1zM1058,335h1v2h-1zM1059,333h1v2h-1zM1060,331h1v2h-1zM1061,329h1v2h-1zM1062,328h1v1h-1zM1063,326h1v2h-1zM1064,324h1v2h-1zM1065,323h1v1h-1zM1066,322h1v1h-1zM1067,320h1v2h-1zM1068,319h1v1h-1zM1069,318h1v1h-1zM1070,317h1v1h-1zM1071,316h1v1h-1zM1072,314h1v2h-1zM1073,313h1v1h-1zM1074,312h1v1h-1zM1075,311h1v1h-1zM1076,310h1v1h-1zM1077,309h1v1h-1zM1078,308h1v1h-1zM1079,307h1v1h-1zM1080,306h1v1h-1zM1081,305h1v1h-1zM1082,304h1v1h-1zM1083,303h1v1h-1zM1084,301h1v2h-1zM1085,300h1v1h-1zM1086,298h1v2h-1zM1087,297h1v1h-1zM1088,295h1v2h-1zM1089,293h1v2h-1zM1090,291h1v2h-1zM1091,289h1v2h-1zM1092,287h1v2h-1zM1093,286h1v1h-1zM1094,284h1v2h-1zM1095,283h1v1h-1zM1096,281h1v2h-1zM1097,280h1v1h-1zM1098,279h1v1h-1zM1099,278h1v1h-1zM1100,277h1v1h-1zM1101,276h1v1h-1zM1102,275h1v1h-1zM1103,274h1v1h-1zM1104,273h1v1h-1zM1105,272h1v1h-1zM1106,271h2v1h-2zM1108,270h2v1h-2zM1110,269h2v1h-2zM1112,268h1v1h-1zM1113,267h1v1h-1zM1114,266h1v1h-1zM1115,265h2v1h-2zM1117,264h1v1h-1zM1118,263h1v1h-1zM1119,262h1v1h-1zM1120,261h1v1h-1zM1121,260h2v1h-2zM1123,259h1v1h-1zM1124,258h1v1h-1zM1125,257h2v1h-2zM1127,256h1v1h-1zM1128,255h3v1h-3zM1131,254h2v1h-2zM1133,253h2v1h-2zM1135,252h3v1h-3zM1138,251h3v1h-3zM1141,250h1v1h-1zM1142,249h4v1h-4zM1146,248h1v1h-1zM1147,247h1v1h-1zM1148,246h1v1h-1zM1149,245h1v1h-1zM1150,244h1v1h-1zM1151,243h1v1h-1zM1152,242h1v1h-1zM1153,241h1v1h-1zM1154,240h1v1h-1zM1155,239h1v1h-1zM1156,238h2v1h-2zM1158,237h2v1h-2zM1160,236h2v1h-2zM1162,235h2v1h-2zM1164,234h2v1h-2zM1166,233h2v1h-2zM1168,232h7v1h-7zM1175,233h1v1h-1zM1176,234h2v1h-2zM1178,235h2v1h-2zM1180,236h1v1h-1zM1181,237h3v1h-3zM1184,238h2v1h-2zM1186,237h1v1h-1zM1187,236h1v1h-1zM1188,235h1v1h-1zM1189,234h1v1h-1zM1190,233h1v1h-1zM1191,232h1v1h-1zM1192,231h1v1h-1zM1193,230h1v1h-1zM1194,229h1v1h-1zM1195,228h2v1h-2zM1197,227h1v1h-1zM1198,226h3v1h-3zM1201,225h5v1h-5z" fill="#ff0000"/>
<path d="M8,79h1v1h-1zM9,80h3v1h-3zM12,81h2v1h-2zM14,82h4v1h-4zM18,83h2v1h-2zM20,84h1v1h-1zM21,85h1v1h-1zM22,86h1v2h-1zM23,88h1v1h-1zM24,89h1v2h-1zM25,91h1v2h-1zM26,93h1v3h-1zM27,96h1v2h-1zM28,98h1v2h-1zM29,100h1v2h-1zM30,102h1v1h-1zM31,103h1v2h-1zM32,105h1v1h-1zM33,106h1v2h-1zM34,108h1v1h-1zM35,109h1v1h-1zM36,110h1v1h-1zM37,111h1v1h-1zM38,112h1v1h-1zM39,113h1v1h-1zM40,114h2v1h-2zM42,115h4v1h-4zM46,114h2v1h-2zM48,113h1v1h-1zM49,112h1v1h-1zM50,111h1v1h-1zM51,110h1v1h-1zM52,109h1v1h-1zM53,108h1v1h-1zM54,107h1v1h-1zM55,106h1v1h-1zM56,104h1v2h-1zM57,103h1v1h-1zM58,101h1v2h-1zM59,99h1v2h-1zM60,98h1v1h-1zM61,96h1v2h-1zM62,95h1v1h-1zM63,94h1v1h-1zM64,93h1v1h-1zM65,92h1v1h-1zM66,91h1v1h-1zM67,90h1v1h-1zM68,89h1v1h-1zM69,87h1v2h-1zM70,86h1v1h-1zM71,85h1v1h-1zM72,84h1v1h-1zM73,83h1v1h-1zM74,82h1v1h-1zM75,80h1v2h-1zM76,80h1v1h-1zM77,79h1v1h-1zM78,78h1v1h-1zM79,77h4v1h-4zM83,78h5v1h-5zM88,77h2v1h-2zM90,76h1v1h-1zM91,75h6v1h-6zM97,76h2v1h-2zM99,77h7v1h-7zM106,78h2v1h-2zM108,79h1v1h-1zM109,80h1v2h-1zM110,82h1v2h-1zM111,84h1v1h-1zM112,85h1v2h-1zM113,86h1v1h-1zM114,87h7v1h-7zM121,86h2v1h-2zM123,85h2v1h-2zM125,84h1v1h-1zM126,83h1v1h-1zM127,82h1v1h-1zM128,80h1v2h-1zM129,79h1v1h-1zM130,77h1v2h-1zM131,76h1v1h-1zM132,74h1v2h-1zM133,74h1v1h-1zM134,73h1v1h-1zM135,72h1v1h-1zM136,71h2v1h-2zM138,70h1v1h-1zM139,69h2v1h-2zM141,68h3v1h-3zM144,67h4v1h-4zM148,66h3v1h-3zM151,65h7v1h-7zM158,66h2v1h-2zM160,67h1v1h-1zM161,68h1v1h-1zM162,69h1v1h-1zM163,70h1v1h-1zM164,71h1v1h-1zM165,72h1v2h-1zM166,74h1v1h-1zM167,75h1v2h-1zM168,77h1v2h-1zM169,79h1v2h-1zM170,81h1v2h-1zM171,83h1v1h-1zM172,84h1v2h-1zM173,86h1v2h-1zM174,88h1v2h-1zM175,90h1v1h-1zM176,91h1v2h-1zM177,93h1v1h-1zM178,94h1v2h-1zM179,96h1v1h-1zM180,97h1v2h-1zM181,99h1v2h-1zM182,101h1v1h-1zM183,102h1v2h-1zM184,104h1v1h-1zM185,105h1v1h-1zM186,106h1v1h-1zM187,107h1v1h-1zM188,108h2v1h-2zM190,109h2v1h-2zM192,110h1v2h-1zM193,112h1v2h-1zM194,114h1v2h-1zM195,116h1v1h-1zM196,117h1v2h-1zM197,119h1v2h-1zM198,121h1v1h-1zM199,122h1v2h-1zM200,124h1v1h-1zM201,125h1v1h-1zM202,126h1v2h-1zM203,128h1v1h-1zM204,129h1v2h-1zM205,131h1v1h-1zM206,132h1v2h-1zM207,134h1v2h-1zM208,136h1v2h-1zM209,138h1v1h-1zM210,139h1v2h-1zM211,141h1v1h-1zM212,142h1v1h-1zM213,141h16v1h-16zM229,140h2v1h-2zM231,139h1v1h-1zM232,140h1v1h-1zM233,141h2v1h-2zM235,142h1v1h-1zM236,143h2v1h-2zM238,144h8v1h-8zM246,143h5v1h-5zM251,142h13v1h-13zM264,143h2v1h-2zM266,144h2v1h-2zM268,145h3v1h-3zM271,146h7v1h-7zM278,147h2v1h-2zM280,148h3v1h-3zM283,149h2v1h-2zM285,150h3v1h-3zM288,151h2v1h-2zM290,152h3v1h-3zM293,153h1v1h-1zM294,154h2v1h-2zM296,155h2v1h-2zM298,156h1v1h-1zM299,157h3v1h-3zM302,156h3v1h-3zM305,155h1v1h-1zM306,154h1v1h-1zM307,153h1v1h-1zM308,151h1v2h-1zM309,150h1v1h-1zM310,148h1v2h-1zM311,147h1v1h-1zM312,145h1v2h-1zM313,143h1v2h-1zM314,141h1v2h-1zM315,138h1v3h-1zM316,136h1v2h-1zM317,134h1v2h-1zM318,132h1v2h-1zM319,131h1v1h-1zM320,129h1v2h-1zM321,128h1v1h-1zM322,126h1v2h-1zM323,125h1v1h-1zM324,123h1v2h-1zM325,122h1v1h-1zM326,121h1v1h-1zM327,120h2v1h-2zM329,119h2v1h-2zM331,118h3v1h-3zM334,117h2v1h-2zM336,116h2v1h-2zM338,115h3v1h-3zM341,114h13v1h-13zM354,115h2v1h-2zM356,116h1v1h-1zM357,117h1v2h-1zM358,119h1v1h-1zM359,120h1v2h-1zM360,122h1v2h-1zM361,124h1v2h-1zM362,126h1v2h-1zM363,128h1v2h-1zM364,130h1v1h-1zM365,131h1v2h-1zM366,133h1v1h-1zM367,134h1v1h-1zM368,135h1v1h-1zM369,136h1v1h-1zM370,137h1v2h-1zM371,139h2v1h-2zM373,140h1v1h-1zM374,141h2v1h-2zM376,142h1v1h-1zM377,143h1v1h-1zM378,144h2v1h-2zM380,145h5v1h-5zM385,146h5v1h-5zM390,147h4v1h-4zM394,148h2v1h-2zM396,149h1v1h-1zM397,150h2v1h-2zM399,151h1v1h-1zM400,152h1v1h-1zM401,153h1v1h-1zM402,154h1v1h-1zM403,155h1v1h-1zM404,156h9v1h-9zM413,155h3v1h-3zM416,154h2v1h-2zM418,153h1v1h-1zM419,152h1v1h-1zM420,151h6v1h-6zM426,152h7v1h-7zM433,151h1v1h-1zM434,150h2v1h-2zM436,149h1v1h-1zM437,148h1v1h-1zM438,147h1v1h-1zM439,146h2v1h-2zM441,145h1v1h-1zM442,144h2v1h-2zM444,143h2v1h-2zM446,142h4v1h-4zM450,143h3v1h-3zM453,142h2v1h-2zM455,141h2v1h-2zM457,140h2v1h-2zM459,139h1v1h-1zM460,138h1v1h-1zM461,137h1v1h-1zM462,136h1v1h-1zM463,134h1v2h-1zM464,133h1v1h-1zM465,131h1v2h-1zM466,129h1v2h-1zM467,128h1v1h-1zM468,126h1v2h-1zM469,124h1v2h-1zM470,123h1v1h-1zM471,121h1v2h-1zM472,120h7v1h-7zM479,121h2v1h-2zM481,122h2v1h-2zM483,123h2v1h-2zM485,124h2v1h-2zM487,125h2v1h-2zM489,126h2v1h-2zM491,127h2v1h-2zM493,126h4v1h-4zM497,125h1v1h-1zM498,124h1v1h-1zM499,123h1v1h-1zM500,122h1v1h-1zM501,121h1v1h-1zM502,120h1v1h-1zM503,119h1v1h-1zM504,118h1v1h-1zM505,117h1v1h-1zM506,116h1v1h-1zM507,114h1v2h-1zM508,113h1v1h-1zM509,112h1v1h-1zM510,111h1v1h-1zM511,109h1v2h-1zM512,108h2v1h-2zM514,107h2v1h-2zM516,106h10v1h-10zM526,107h3v1h-3zM529,108h1v1h-1zM530,109h2v1h-2zM532,110h1v1h-1zM533,111h2v1h-2zM535,112h1v1h-1zM536,113h1v1h-1zM537,114h1v1h-1zM538,115h2v1h-2zM540,116h1v1h-1zM541,117h1v1h-1zM542,118h2v1h-2zM544,119h1v1h-1zM545,120h1v1h-1zM546,121h1v1h-1zM547,122h1v1h-1zM548,123h1v1h-1zM549,124h1v1h-1zM550,125h1v1h-1zM551,126h1v1h-1zM552,127h1v1h-1zM553,128h2v1h-2zM555,129h1v1h-1zM556,130h2v1h-2zM558,131h2v1h-2zM560,132h4v1h-4zM564,133h6v1h-6zM570,132h5v1h-5zM575,133h3v1h-3zM578,134h2v1h-2zM580,135h2v1h-2zM582,136h2v1h-2zM584,137h1v1h-1zM585,138h2v1h-2zM587,139h2v1h-2zM589,140h1v1h-1zM590,141h4v1h-4zM594,142h5v1h-5zM599,143h4v1h-4zM603,144h6v1h-6zM609,143h3v1h-3zM612,142h1v1h-1zM613,141h1v1h-1zM614,140h1v1h-1zM615,139h1v1h-1zM616,138h1v1h-1zM617,137h1v1h-1zM618,136h1v1h-1zM619,135h1v1h-1zM620,134h1v1h-1zM621,133h1v1h-1zM622,132h1v1h-1zM623,131h1v1h-1zM624,130h1v1h-1zM625,129h1v1h-1zM626,128h1v1h-1zM627,127h1v1h-1zM628,126h2v1h-2zM630,125h5v1h-5zM635,126h3v1h-3zM638,127h7v1h-7zM645,126h1v1h-1zM646,124h1v2h-1zM647,123h1v1h-1zM648,122h1v1h-1zM649,121h2v1h-2zM651,120h1v1h-1zM652,119h2v1h-2zM654,118h2v1h-2zM656,117h1v1h-1zM657,116h1v1h-1zM658,115h1v1h-1zM659,114h1v1h-1zM660,113h5v1h-5zM665,114h2v1h-2zM667,115h6v1h-6zM673,114h2v1h-2zM675,113h2v1h-2zM677,112h3v1h-3zM680,111h1v1h-1zM681,110h2v1h-2zM683,109h1v1h-1zM684,108h1v1h-1zM685,107h1v1h-1zM686,106h1v1h-1zM687,105h1v1h-1zM688,104h2v1h-2zM690,103h1v1h-1zM691,102h1v1h-1zM692,101h2v1h-2zM694,100h2v1h-2zM696,99h1v1h-1zM697,98h1v1h-1zM698,97h1v1h-1zM699,96h1v1h-1zM700,95h1v1h-1zM701,94h1v1h-1zM702,93h1v1h-1zM703,91h1v2h-1zM704,90h1v1h-1zM705,89h1v1h-1zM706,88h1v1h-1zM707,87h1v1h-1zM708,85h1v2h-1zM709,84h1v1h-1zM710,83h1v1h-1zM711,81h1v2h-1zM712,80h1v1h-1zM713,79h1v1h-1zM714,78h1v1h-1zM715,77h1v1h-1zM716,76h3v1h-3zM719,75h2v1h-2zM721,76h4v1h-4zM725,77h1v1h-1zM726,78h2v1h-2zM728,79h1v1h-1zM729,80h1v2h-1zM730,82h1v1h-1zM731,83h1v2h-1zM732,85h1v2h-1zM733,87h1v2h-1zM734,89h1v2h-1zM735,91h1v2h-1zM736,93h1v2h-1zM737,95h1v2h-1zM738,97h1v2h-1zM739,99h1v2h-1zM740,101h1v2h-1zM741,103h1v1h-1zM742,104h1v1h-1zM743,105h1v2h-1zM744,107h1v1h-1zM745,108h1v1h-1zM746,109h1v1h-1zM747,110h1v1h-1zM748,111h2v1h-2zM750,112h3v1h-3zM753,111h2v1h-2zM755,110h1v1h-1zM756,109h2v1h-2zM758,108h2v1h-2zM760,107h2v1h-2zM762,106h1v1h-1zM763,105h7v1h-7zM770,106h2v1h-2zM772,107h2v1h-2zM774,108h2v1h-2zM776,109h2v1h-2zM778,110h2v1h-2zM780,111h1v1h-1zM781,112h2v1h-2zM783,113h1v1h-1zM784,114h2v1h-2zM786,115h1v1h-1zM787,116h1v1h-1zM788,117h1v1h-1zM789,118h2v1h-2zM791,119h2v1h-2zM793,120h1v1h-1zM794,121h2v1h-2zM796,122h2v1h-2zM798,123h1v1h-1zM799,124h1v1h-1zM800,125h1v1h-1zM801,126h1v1h-1zM802,127h1v2h-1zM803,129h1v2h-1zM804,131h1v1h-1zM805,132h1v1h-1zM806,133h1v2h-1zM807,135h1v1h-1zM808,136h1v1h-1zM809,137h1v2h-1zM810,139h1v2h-1zM811,141h1v2h-1zM812,143h1v2h-1zM813,145h1v1h-1zM814,146h1v2h-1zM815,148h1v2h-1zM816,150h1v2h-1zM817,152h1v2h-1zM818,154h1v1h-1zM819,155h1v2h-1zM820,157h1v2h-1zM821,159h2v1h-2zM823,160h1v1h-1zM824,161h1v1h-1zM825,162h2v1h-2zM827,163h8v1h-8zM835,162h1v1h-1zM836,161h3v1h-3zM839,160h9v1h-9zM848,161h2v1h-2zM850,162h2v1h-2zM852,163h3v1h-3zM855,164h4v1h-4zM859,163h4v1h-4zM863,162h1v1h-1zM864,161h1v1h-1zM865,160h2v1h-2zM867,159h2v1h-2zM869,158h8v1h-8zM877,159h2v1h-2zM879,160h1v1h-1zM880,161h1v1h-1zM881,162h1v1h-1zM882,163h1v2h-1zM883,165h1v1h-1zM884,166h1v1h-1zM885,167h1v1h-1zM886,168h2v1h-2zM888,169h1v2h-1zM889,171h1v1h-1zM890,172h1v2h-1zM891,174h1v1h-1zM892,175h1v2h-1zM893,177h1v1h-1zM894,178h1v1h-1zM895,179h1v1h-1zM896,180h1v1h-1zM897,181h1v2h-1zM898,183h1v1h-1zM899,184h1v1h-1zM900,185h1v2h-1zM901,187h1v1h-1zM902,188h1v1h-1zM903,189h1v1h-1zM904,190h1v1h-1zM905,191h1v1h-1zM906,192h1v1h-1zM907,193h1v1h-1zM908,194h2v1h-2zM910,195h1v1h-1zM911,196h1v1h-1zM912,197h1v1h-1zM913,198h1v3h-1zM914,201h1v2h-1zM915,203h1v2h-1zM916,205h1v2h-1zM917,207h1v2h-1zM918,209h1v1h-1zM919,210h1v2h-1zM920,212h1v1h-1zM921,213h1v2h-1zM922,215h1v1h-1zM923,216h1v2h-1zM924,217h1v1h-1zM925,216h1v1h-1zM926,215h1v1h-1zM927,214h1v1h-1zM928,213h1v1h-1zM929,212h2v1h-2zM931,211h1v1h-1zM932,210h1v1h-1zM933,208h1v2h-1zM934,206h1v2h-1zM935,204h1v2h-1zM936,202h1v2h-1zM937,200h1v2h-1zM938,198h1v2h-1zM939,196h1v2h-1zM940,194h1v2h-1zM941,192h1v2h-1zM942,190h1v2h-1zM943,189h1v1h-1zM944,187h1v2h-1zM945,187h1v1h-1zM946,186h1v1h-1zM947,187h1v1h-1zM948,188h1v2h-1zM949,190h1v2h-1zM950,192h1v1h-1zM951,193h1v2h-1zM952,195h1v2h-1zM953,197h1v1h-1zM954,198h1v2h-1zM955,200h1v2h-1zM956,202h1v3h-1zM957,205h1v4h-1zM958,209h1v5h-1zM959,214h1v6h-1zM960,220h1v6h-1zM961,226h1v7h-1zM962,233h1v6h-1zM963,239h1v7h-1zM964,246h1v7h-1zM965,253h1v8h-1zM966,261h1v8h-1zM967,269h1v7h-1zM968,276h1v7h-1zM969,283h1v6h-1zM970,289h1v6h-1zM971,295h1v7h-1zM972,302h1v7h-1zM973,309h1v8h-1zM974,317h1v7h-1zM975,324h1v5h-1zM976,329h1v7h-1zM977,336h1v10h-1zM978,346h1v7h-1zM979,353h1v7h-1zM980,360h1v6h-1zM981,366h1v4h-1zM982,370h1v4h-1zM983,374h1v5h-1zM984,379h1v4h-1zM985,383h1v4h-1zM986,387h1v4h-1zM987,391h1v4h-1zM988,395h1v4h-1zM989,399h1v5h-1zM990,404h1v5h-1zM991,409h1v4h-1zM992,413h1v4h-1zM993,417h1v4h-1zM994,421h1v3h-1zM995,424h1v3h-1zM996,426h2v1h-2zM998,425h1v1h-1zM999,423h1v2h-1zM1000,422h1v1h-1zM1001,420h1v2h-1zM1002,418h1v2h-1zM1003,416h1v2h-1zM1004,414h1v2h-1zM1005,411h1v3h-1zM1006,409h1v2h-1zM1007,406h1v3h-1zM1008,402h1v4h-1zM1009,397h1v5h-1zM1010,391h1v6h-1zM1011,384h1v7h-1zM1012,378h1v6h-1zM1013,371h1v7h-1zM1014,365h1v6h-1zM1015,361h1v4h-1zM1016,357h1v4h-1zM1017,353h1v4h-1zM1018,349h1v4h-1zM1019,346h1v3h-1zM1020,342h1v4h-1zM1021,339h1v3h-1zM1022,337h1v2h-1zM1023,335h1v2h-1zM1024,334h1v1h-1zM1025,333h2v1h-2zM1027,332h2v1h-2zM1029,333h1v1h-1zM1030,334h1v1h-1zM1031,335h1v2h-1zM1032,337h1v3h-1zM1033,340h1v3h-1zM1034,343h1v3h-1zM1035,346h1v3h-1zM1036,349h1v3h-1zM1037,352h1v2h-1zM1038,354h1v2h-1zM1039,356h1v2h-1zM1040,358h3v1h-3zM1043,359h1v1h-1zM1044,358h2v1h-2zM1046,357h1v1h-1zM1047,356h1v1h-1zM1048,354h1v2h-1zM1049,351h1v3h-1zM1050,348h1v3h-1zM1051,346h1v2h-1zM1052,341h1v5h-1zM1053,336h1v5h-1zM1054,331h1v5h-1zM1055,326h1v5h-1zM1056,321h1v5h-1zM1057,316h1v5h-1zM1058,311h1v5h-1zM1059,307h1v4h-1zM1060,302h1v5h-1zM1061,297h1v5h-1zM1062,292h1v5h-1zM1063,289h1v3h-1zM1064,286h1v3h-1zM1065,282h1v4h-1zM1066,279h1v3h-1zM1067,276h1v3h-1zM1068,273h1v3h-1zM1069,271h1v2h-1zM1070,269h1v2h-1zM1071,268h1v1h-1zM1072,267h1v1h-1zM1073,266h4v1h-4zM1077,267h2v1h-2zM1079,268h9v1h-9zM1088,269h2v1h-2zM1090,270h1v1h-1zM1091,271h1v1h-1zM1092,272h2v1h-2zM1094,273h2v1h-2zM1096,274h1v1h-1zM1097,273h4v1h-4zM1101,272h2v1h-2zM1103,271h4v1h-4zM1107,270h5v1h-5zM1112,268h1v2h-1zM1113,265h1v3h-1zM1114,263h1v2h-1zM1115,260h1v3h-1zM1116,257h1v3h-1zM1117,253h1v4h-1zM1118,251h1v2h-1zM1119,248h1v3h-1zM1120,245h1v3h-1zM1121,243h1v2h-1zM1122,241h1v2h-1zM1123,239h1v2h-1zM1124,237h1v2h-1zM1125,235h1v2h-1zM1126,233h1v2h-1zM1127,231h1v2h-1zM1128,230h5v1h-5zM1133,231h2v1h-2zM1135,232h1v1h-1zM1136,233h1v1h-1zM1137,234h1v1h-1zM1138,235h1v1h-1zM1139,236h1v1h-1zM1140,237h1v1h-1zM1141,238h1v1h-1zM1142,239h1v2h-1zM1143,241h1v1h-1zM1144,242h1v2h-1zM1145,244h1v2h-1zM1146,246h1v2h-1zM1147,248h1v1h-1zM1148,247h1v1h-1zM1149,246h1v1h-1zM1150,244h1v2h-1zM1151,243h1v1h-1zM1152,241h1v2h-1zM1153,239h1v2h-1zM1154,237h1v2h-1zM1155,235h1v2h-1zM1156,233h1v2h-1zM1157,232h1v1h-1zM1158,231h1v1h-1zM1159,229h1v2h-1zM1160,229h1v1h-1zM1161,228h2v1h-2zM1163,227h2v1h-2zM1165,225h1v2h-1zM1166,224h1v1h-1zM1167,223h1v1h-1zM1168,222h1v1h-1zM1169,223h1v1h-1zM1170,224h2v1h-2zM1172,225h1v2h-1zM1173,227h1v2h-1zM1174,229h1v2h-1zM1175,231h1v2h-1zM1176,233h1v2h-1zM1177,235h1v1h-1zM1178,236h1v2h-1zM1179,238h1v1h-1zM1180,239h1v1h-1zM1181,240h1v1h-1zM1182,241h2v1h-2zM1184,242h4v1h-4zM1188,241h1v1h-1zM1189,239h1v2h-1zM1190,236h1v3h-1zM1191,234h1v2h-1zM1192,231h1v3h-1zM1193,229h1v2h-1zM1194,227h1v2h-1zM1195,225h1v2h-1zM1196,223h1v2h-1zM1197,221h1v2h-1zM1198,219h1v2h-1zM1199,217h1v2h-1zM1200,215h1v2h-1zM1201,213h1v2h-1zM1202,212h1v1h-1zM1203,210h1v2h-1zM1204,209h2v1h-2zM1206,208h3v1h-3zM1209,209h2v1h-2zM1211,210h2v1h-2z" fill="#ffa500"/>
</g>
<g shape-rendering="crispEdges">
<path d="M8,562.5H1522M8,598.5H1522" stroke="#c0c0c0" stroke-width="1" stroke-dasharray="3,3" fill="none"/>
</g>
<g shape-rendering="crispEdges"><path d="M7,572h1v1h-1zM8,573h1v2h-1zM9,575h1v2h-1zM10,577h1v2h-1zM11,579h1v1h-1zM12,580h2v1h-2zM14,581h2v1h-2zM16,582h2v1h-2zM18,583h2v1h-2zM20,584h1v2h-1zM21,586h1v1h-1zM22,587h1v2h-1zM23,589h1v1h-1zM24,590h1v1h-1zM25,591h1v1h-1zM26,592h1v1h-1zM27,593h1v1h-1zM28,594h3v1h-3zM31,595h3v1h-3zM34,596h2v1h-2zM36,595h2v1h-2zM38,594h1v1h-1zM39,593h5v1h-5zM44,591h1v2h-1zM45,589h1v2h-1zM46,586h1v3h-1zM47,584h1v2h-1zM48,583h1v1h-1zM49,582h4v1h-4zM53,581h3v1h-3zM56,580h1v1h-1zM57,578h1v2h-1zM58,576h1v2h-1zM59,575h1v1h-1zM60,573h1v2h-1zM61,573h1v1h-1zM62,572h2v1h-2zM64,571h2v1h-2zM66,570h3v1h-3zM69,569h3v1h-3zM72,568h2v1h-2zM74,567h3v1h-3zM77,566h3v1h-3zM80,567h1v2h-1zM81,569h1v3h-1zM82,572h1v3h-1zM83,575h1v4h-1zM84,578h1v1h-1zM85,577h1v1h-1zM86,576h1v1h-1zM87,574h1v2h-1zM88,573h1v1h-1zM89,572h1v1h-1zM90,571h1v1h-1zM91,569h1v2h-1zM92,569h1v1h-1zM93,570h2v1h-2zM95,571h1v1h-1zM96,572h1v1h-1zM97,573h1v2h-1zM98,575h1v3h-1zM99,578h1v2h-1zM100,579h3v1h-3zM103,578h2v1h-2zM105,579h2v1h-2zM107,580h1v1h-1zM108,581h1v1h-1zM109,582h1v1h-1zM110,583h1v2h-1zM111,585h2v1h-2zM113,584h1v1h-1zM114,583h1v1h-1zM115,581h1v2h-1zM116,580h1v1h-1zM117,579h2v1h-2zM119,578h2v1h-2zM121,577h1v1h-1zM122,576h1v1h-1zM123,575h2v1h-2zM125,574h1v1h-1zM126,573h2v1h-2zM128,572h2v1h-2zM130,571h3v1h-3zM133,572h1v1h-1zM134,573h1v1h-1zM135,574h5v1h-5zM140,573h2v1h-2zM142,572h1v1h-1zM143,571h13v1h-13zM156,572h1v1h-1zM157,573h1v2h-1zM158,575h1v3h-1zM159,578h1v2h-1zM160,580h1v2h-1zM161,582h1v1h-1zM162,583h1v1h-1zM163,584h1v1h-1zM164,585h1v1h-1zM165,586h1v1h-1zM166,587h2v1h-2zM168,588h1v2h-1zM169,590h1v1h-1zM170,591h1v2h-1zM171,593h1v1h-1zM172,594h9v1h-9zM181,595h1v1h-1zM182,596h1v1h-1zM183,597h2v1h-2zM185,596h1v1h-1zM186,595h1v1h-1zM187,594h2v1h-2zM189,595h2v1h-2zM191,596h1v1h-1zM192,597h1v2h-1zM193,599h1v1h-1zM194,600h1v1h-1zM195,601h1v1h-1zM196,602h2v1h-2zM198,603h3v1h-3zM201,604h5v1h-5zM206,605h3v1h-3zM209,606h3v1h-3zM212,605h1v1h-1zM213,603h1v2h-1zM214,598h1v5h-1zM215,594h1v4h-1zM216,594h3v1h-3zM219,595h6v1h-6zM225,596h1v1h-1zM226,597h1v1h-1zM227,598h1v1h-1zM228,597h1v1h-1zM229,595h1v2h-1zM230,593h1v2h-1zM231,591h1v2h-1zM232,592h1v1h-1zM233,593h1v1h-1zM234,594h1v1h-1zM235,595h2v1h-2zM237,593h1v2h-1zM238,591h1v2h-1zM239,589h1v2h-1zM240,589h2v1h-2zM242,590h3v1h-3zM245,589h4v1h-4zM249,590h2v1h-2zM251,591h3v1h-3zM254,590h2v1h-2zM256,589h2v1h-2zM258,588h1v1h-1zM259,587h2v1h-2zM261,588h1v1h-1zM262,589h1v1h-1zM263,590h1v1h-1zM264,591h2v1h-2zM266,592h4v1h-4zM270,591h3v1h-3zM273,589h1v2h-1zM274,588h1v1h-1zM275,587h1v1h-1zM276,586h1v1h-1zM277,587h1v1h-1zM278,588h2v1h-2zM280,589h2v1h-2zM282,590h1v1h-1zM283,591h4v1h-4zM287,592h3v1h-3zM290,593h8v1h-8zM298,594h3v1h-3zM301,591h1v3h-1zM302,588h1v3h-1zM303,586h1v2h-1zM304,584h1v2h-1zM305,582h1v2h-1zM306,580h1v2h-1zM307,578h1v2h-1zM308,577h2v1h-2zM310,576h1v1h-1zM311,575h1v1h-1zM312,574h1v1h-1zM313,573h1v1h-1zM314,572h1v1h-1zM315,570h1v2h-1zM316,570h1v1h-1zM317,571h3v1h-3zM320,570h2v1h-2zM322,569h1v1h-1zM323,568h3v1h-3zM326,569h2v1h-2zM328,570h2v1h-2zM330,571h1v1h-1zM331,572h1v1h-1zM332,571h2v1h-2zM334,570h2v1h-2zM336,569h2v1h-2zM338,568h4v1h-4zM342,569h2v1h-2zM344,570h1v1h-1zM345,571h1v1h-1zM346,572h2v1h-2zM348,573h2v1h-2zM350,574h2v1h-2zM352,575h1v1h-1zM353,576h1v1h-1zM354,577h2v1h-2zM356,578h1v2h-1zM357,580h1v2h-1zM358,582h1v3h-1zM359,585h1v2h-1zM360,587h1v1h-1zM361,588h1v1h-1zM362,589h1v1h-1zM363,590h3v1h-3zM366,591h3v1h-3zM369,590h2v1h-2zM371,589h1v1h-1zM372,588h1v1h-1zM373,587h1v1h-1zM374,586h3v1h-3zM377,587h1v2h-1zM378,589h1v1h-1zM379,590h1v2h-1zM380,591h1v1h-1zM381,590h3v1h-3zM384,589h2v1h-2zM386,588h7v1h-7zM393,589h1v1h-1zM394,590h1v1h-1zM395,591h1v1h-1zM396,592h1v1h-1zM397,593h1v1h-1zM398,594h1v2h-1zM399,596h1v2h-1zM400,597h4v1h-4zM404,595h1v2h-1zM405,592h1v3h-1zM406,589h1v3h-1zM407,587h1v2h-1zM408,585h1v2h-1zM409,584h2v1h-2zM411,583h2v1h-2zM413,582h3v1h-3zM416,583h1v1h-1zM417,584h1v1h-1zM418,585h1v1h-1zM419,586h1v1h-1zM420,587h1v1h-1zM421,588h2v1h-2zM423,589h3v1h-3zM426,588h2v1h-2zM428,587h1v1h-1zM429,585h1v2h-1zM430,583h1v2h-1zM431,581h1v2h-1zM432,580h1v1h-1zM433,578h1v2h-1zM434,577h1v1h-1zM435,576h1v1h-1zM436,575h2v1h-2zM438,576h3v1h-3zM441,577h1v1h-1zM442,578h1v2h-1zM443,580h1v1h-1zM444,581h2v1h-2zM446,582h1v1h-1zM447,583h4v1h-4zM451,584h1v1h-1zM452,582h1v2h-1zM453,579h1v3h-1zM454,577h1v2h-1zM455,574h1v3h-1zM456,572h1v2h-1zM457,572h1v1h-1zM458,571h1v1h-1zM459,570h3v1h-3zM462,569h3v1h-3zM465,568h7v1h-7zM472,569h1v1h-1zM473,570h1v1h-1zM474,571h1v1h-1zM475,572h1v1h-1zM476,573h1v1h-1zM477,574h1v1h-1zM478,575h1v2h-1zM479,577h1v1h-1zM480,578h1v1h-1zM481,577h2v1h-2zM483,576h2v1h-2zM485,577h2v1h-2zM487,578h1v1h-1zM488,577h1v1h-1zM489,576h1v1h-1zM490,575h1v1h-1zM491,574h1v1h-1zM492,573h1v1h-1zM493,572h2v1h-2zM495,571h2v1h-2zM497,570h3v1h-3zM500,569h2v1h-2zM502,568h1v1h-1zM503,567h2v1h-2zM505,566h1v1h-1zM506,565h2v1h-2zM508,564h1v1h-1zM509,565h2v1h-2zM511,566h3v1h-3zM514,567h3v1h-3zM517,568h2v1h-2zM519,569h4v1h-4zM523,570h3v1h-3zM526,571h2v1h-2zM528,572h1v1h-1zM529,573h1v2h-1zM530,575h1v2h-1zM531,577h1v2h-1zM532,578h3v1h-3zM535,579h2v1h-2zM537,580h2v1h-2zM539,581h3v1h-3zM542,582h3v1h-3zM545,583h2v1h-2zM547,584h1v2h-1zM548,586h1v1h-1zM549,587h1v2h-1zM550,589h1v3h-1zM551,592h1v3h-1zM552,594h1v1h-1zM553,591h1v3h-1zM554,589h1v2h-1zM555,587h1v2h-1zM556,586h1v1h-1zM557,585h8v1h-8zM565,584h1v1h-1zM566,583h2v1h-2zM568,584h1v1h-1zM569,585h1v1h-1zM570,586h1v1h-1zM571,587h3v1h-3zM574,588h3v1h-3zM577,589h3v1h-3zM580,590h2v1h-2zM582,591h3v1h-3zM585,592h2v1h-2zM587,593h1v1h-1zM588,592h1v1h-1zM589,591h2v1h-2zM591,590h1v1h-1zM592,589h3v1h-3zM595,590h2v1h-2zM597,591h1v1h-1zM598,592h2v1h-2zM600,593h8v1h-8zM608,590h1v3h-1zM609,587h1v3h-1zM610,583h1v4h-1zM611,580h1v3h-1zM612,578h1v2h-1zM613,577h1v1h-1zM614,576h1v1h-1zM615,575h1v1h-1zM616,574h1v1h-1zM617,573h1v1h-1zM618,572h1v1h-1zM619,571h1v1h-1zM620,572h1v1h-1zM621,573h1v2h-1zM622,575h1v2h-1zM623,577h1v2h-1zM624,578h1v1h-1zM625,577h4v1h-4zM629,576h2v1h-2zM631,575h3v1h-3zM634,576h2v1h-2zM636,577h1v1h-1zM637,578h1v2h-1zM638,580h1v1h-1zM639,581h2v1h-2zM641,579h1v2h-1zM642,577h1v2h-1zM643,575h1v2h-1zM644,573h1v2h-1zM645,571h1v2h-1zM646,569h1v2h-1zM647,568h2v1h-2zM649,569h1v1h-1zM650,570h1v1h-1zM651,571h1v1h-1zM652,572h3v1h-3zM655,573h1v1h-1zM656,572h1v1h-1zM657,571h1v1h-1zM658,570h3v1h-3zM661,571h1v2h-1zM662,573h1v2h-1zM663,575h1v2h-1zM664,577h2v1h-2zM666,576h2v1h-2zM668,575h3v1h-3zM671,574h2v1h-2zM673,573h1v1h-1zM674,572h1v1h-1zM675,571h1v1h-1zM676,570h2v1h-2zM678,571h3v1h-3zM681,570h1v1h-1zM682,569h2v1h-2zM684,568h2v1h-2zM686,567h3v1h-3zM689,568h2v1h-2zM691,569h1v1h-1zM692,568h2v1h-2zM694,567h1v1h-1zM695,566h2v1h-2zM697,564h1v2h-1zM698,563h1v1h-1zM699,562h1v1h-1zM700,561h2v1h-2zM702,562h2v1h-2zM704,563h1v1h-1zM705,562h1v1h-1zM706,561h2v1h-2zM708,560h1v1h-1zM709,559h2v1h-2zM711,558h2v1h-2zM713,559h1v1h-1zM714,560h2v1h-2zM716,561h1v1h-1zM717,562h1v1h-1zM718,563h1v1h-1zM719,564h1v1h-1zM720,565h1v2h-1zM721,567h1v2h-1zM722,569h1v3h-1zM723,572h1v2h-1zM724,574h5v1h-5zM729,575h1v2h-1zM730,577h1v1h-1zM731,578h1v1h-1zM732,579h1v2h-1zM733,581h1v2h-1zM734,583h1v2h-1zM735,585h1v2h-1zM736,587h1v2h-1zM737,589h2v1h-2zM739,590h5v1h-5zM744,588h1v2h-1zM745,586h1v2h-1zM746,584h1v2h-1zM747,582h1v2h-1zM748,581h11v1h-11zM759,582h2v1h-2zM761,581h4v1h-4zM765,582h2v1h-2zM767,583h2v1h-2zM769,584h2v1h-2zM771,585h1v1h-1zM772,586h6v1h-6zM778,587h1v1h-1zM779,588h3v1h-3zM782,589h3v1h-3zM785,590h1v1h-1zM786,591h1v1h-1zM787,592h3v1h-3zM790,591h1v1h-1zM791,590h2v1h-2zM793,591h1v1h-1zM794,592h1v1h-1zM795,593h1v1h-1zM796,594h4v1h-4zM800,595h1v1h-1zM801,596h1v2h-1zM802,598h1v2h-1zM803,600h1v2h-1zM804,602h2v1h-2zM806,603h5v1h-5zM811,604h2v1h-2zM813,605h1v1h-1zM814,606h2v1h-2zM816,607h3v1h-3zM819,608h2v1h-2zM821,607h7v1h-7zM828,606h1v1h-1zM829,603h1v3h-1zM830,600h1v3h-1zM831,598h1v2h-1zM832,596h1v2h-1zM833,595h1v1h-1zM834,594h1v1h-1zM835,593h4v1h-4zM839,594h2v1h-2zM841,595h1v2h-1zM842,597h1v2h-1zM843,599h1v1h-1zM844,600h2v1h-2zM846,601h4v1h-4zM850,600h2v1h-2zM852,598h1v2h-1zM853,596h1v2h-1zM854,593h1v3h-1zM855,591h1v2h-1zM856,589h1v2h-1zM857,588h1v1h-1zM858,587h1v1h-1zM859,586h1v1h-1zM860,585h2v1h-2zM862,586h2v1h-2zM864,587h1v1h-1zM865,588h2v1h-2zM867,589h3v1h-3zM870,590h3v1h-3zM873,589h3v1h-3zM876,590h2v1h-2zM878,591h1v1h-1zM879,592h2v1h-2zM881,593h1v1h-1zM882,594h1v1h-1zM883,595h1v1h-1zM884,596h1v1h-1zM885,597h1v1h-1zM886,598h1v2h-1zM887,600h3v1h-3zM890,599h8v1h-8zM898,600h2v1h-2zM900,601h3v1h-3zM903,602h2v1h-2zM905,603h1v2h-1zM906,605h1v1h-1zM907,606h1v1h-1zM908,607h1v1h-1zM909,605h1v2h-1zM910,603h1v2h-1zM911,602h2v1h-2zM913,603h1v2h-1zM914,605h1v2h-1zM915,607h1v2h-1zM916,608h1v1h-1zM917,605h1v3h-1zM918,601h1v4h-1zM919,598h1v3h-1zM920,597h4v1h-4zM924,594h1v3h-1zM925,591h1v3h-1zM926,588h1v3h-1zM927,585h1v3h-1zM928,583h1v2h-1zM929,583h5v1h-5zM934,584h1v1h-1zM935,585h1v1h-1zM936,584h2v1h-2zM938,583h1v1h-1zM939,582h2v1h-2zM941,581h3v1h-3zM944,580h2v1h-2zM946,579h2v1h-2zM948,580h1v2h-1zM949,582h1v4h-1zM950,586h1v4h-1zM951,590h1v4h-1zM952,594h1v1h-1zM953,593h1v1h-1zM954,592h1v1h-1zM955,590h1v2h-1zM956,591h1v1h-1zM957,592h1v3h-1zM958,595h1v2h-1zM959,597h1v2h-1zM960,599h1v3h-1zM961,602h1v1h-1zM962,603h1v1h-1zM963,604h1v1h-1zM964,605h7v1h-7zM971,606h2v1h-2zM973,607h2v1h-2zM975,608h1v1h-1zM976,609h1v1h-1zM977,610h1v1h-1zM978,611h4v1h-4zM982,610h12v1h-12zM994,611h2v1h-2zM996,609h1v2h-1zM997,605h1v4h-1zM998,601h1v4h-1zM999,598h1v3h-1zM1000,597h1v1h-1zM1001,596h2v1h-2zM1003,595h1v1h-1zM1004,594h1v1h-1zM1005,593h1v1h-1zM1006,591h1v2h-1zM1007,590h1v1h-1zM1008,589h1v1h-1zM1009,588h1v1h-1zM1010,587h1v1h-1zM1011,586h1v1h-1zM1012,585h1v1h-1zM1013,584h1v1h-1zM1014,583h1v1h-1zM1015,582h1v1h-1zM1016,581h1v1h-1zM1017,582h2v1h-2zM1019,583h4v1h-4zM1023,584h4v1h-4zM1027,585h2v1h-2zM1029,586h1v1h-1zM1030,587h2v1h-2zM1032,588h1v1h-1zM1033,589h2v1h-2zM1035,590h5v1h-5zM1040,589h1v1h-1zM1041,588h1v1h-1zM1042,586h1v2h-1zM1043,584h1v2h-1zM1044,583h1v1h-1zM1045,581h1v2h-1zM1046,580h1v1h-1zM1047,578h1v2h-1zM1048,577h2v1h-2zM1050,576h2v1h-2zM1052,575h1v1h-1zM1053,574h1v1h-1zM1054,573h1v1h-1zM1055,572h2v1h-2zM1057,571h4v1h-4zM1061,570h4v1h-4zM1065,569h4v1h-4zM1069,568h2v1h-2zM1071,567h1v1h-1zM1072,568h1v1h-1zM1073,569h1v2h-1zM1074,571h1v1h-1zM1075,572h1v2h-1zM1076,574h1v1h-1zM1077,575h2v1h-2zM1079,576h1v1h-1zM1080,575h2v1h-2zM1082,574h1v1h-1zM1083,573h6v1h-6zM1089,572h2v1h-2zM1091,571h1v1h-1zM1092,572h1v1h-1zM1093,573h1v2h-1zM1094,575h1v2h-1zM1095,577h1v2h-1zM1096,578h2v1h-2zM1098,577h2v1h-2zM1100,576h1v1h-1zM1101,575h1v1h-1zM1102,574h1v1h-1zM1103,573h4v1h-4zM1107,574h6v1h-6zM1113,572h1v2h-1zM1114,571h1v1h-1zM1115,569h1v2h-1zM1116,568h3v1h-3zM1119,567h2v1h-2zM1121,566h1v1h-1zM1122,565h4v1h-4zM1126,566h2v1h-2zM1128,567h1v2h-1zM1129,569h1v2h-1zM1130,571h1v2h-1zM1131,573h1v2h-1zM1132,575h3v1h-3zM1135,576h5v1h-5zM1140,575h2v1h-2zM1142,574h1v1h-1zM1143,573h2v1h-2zM1145,574h1v1h-1zM1146,575h1v1h-1zM1147,576h2v1h-2zM1149,575h1v1h-1zM1150,574h1v1h-1zM1151,573h1v1h-1zM1152,572h1v1h-1zM1153,571h1v1h-1zM1154,570h1v1h-1zM1155,569h4v1h-4zM1159,570h1v1h-1zM1160,571h1v1h-1zM1161,572h1v1h-1zM1162,573h1v1h-1zM1163,574h1v2h-1zM1164,575h1v1h-1zM1165,574h1v1h-1zM1166,573h2v1h-2zM1168,574h1v1h-1zM1169,575h1v1h-1zM1170,576h1v1h-1zM1171,577h1v1h-1zM1172,578h2v1h-2zM1174,579h1v1h-1zM1175,580h3v1h-3zM1178,581h4v1h-4zM1182,580h2v1h-2zM1184,579h1v1h-1zM1185,577h1v2h-1zM1186,576h1v1h-1zM1187,574h1v2h-1zM1188,573h1v1h-1zM1189,572h1v1h-1zM1190,571h1v1h-1zM1191,570h2v1h-2zM1193,569h1v1h-1zM1194,568h2v1h-2zM1196,569h1v1h-1zM1197,570h1v1h-1zM1198,571h1v1h-1zM1199,572h2v1h-2zM1201,573h1v1h-1zM1202,574h1v1h-1zM1203,575h2v1h-2zM1205,574h7v1h-7z" fill="#1e90ff"/></g>
<path d="M7,654h1v2h-1zM11,654h1v1h-1zM15,654h1v1h-1zM19,654h1v1h-1zM23,654h1v1h-1zM27,654h1v1h-1zM31,654h1v2h-1zM35,654h1v3h-1zM39,654h1v4h-1zM43,654h1v4h-1zM47,654h1v4h-1zM51,654h1v4h-1zM55,654h1v4h-1zM59,654h1v3h-1zM63,654h1v2h-1zM67,654h1v1h-1zM71,654h1v1h-1zM75,653h1v1h-1zM79,652h1v2h-1zM83,652h1v2h-1zM87,651h1v3h-1zM91,651h1v3h-1zM95,651h1v3h-1zM99,651h1v3h-1zM103,650h1v4h-1zM107,650h1v4h-1zM111,650h1v4h-1zM115,650h1v4h-1zM119,650h1v4h-1zM123,650h1v4h-1zM127,650h1v4h-1zM131,650h1v4h-1zM135,650h1v4h-1zM139,650h1v4h-1zM143,650h1v4h-1zM147,650h1v4h-1zM151,650h1v4h-1zM155,650h1v4h-1zM159,650h1v4h-1zM163,650h1v4h-1zM167,653h1v1h-1zM171,654h1v1h-1zM175,654h1v1h-1zM179,654h1v2h-1zM183,654h1v4h-1zM187,654h1v5h-1zM191,654h1v7h-1zM195,654h1v9h-1zM199,654h1v10h-1zM203,654h1v12h-1zM207,654h1v14h-1zM211,654h1v15h-1zM215,654h1v15h-1zM219,654h1v15h-1zM223,654h1v15h-1zM227,654h1v15h-1zM231,654h1v15h-1zM235,654h1v15h-1zM239,654h1v15h-1zM243,654h1v14h-1zM247,654h1v14h-1zM251,654h1v14h-1zM255,654h1v13h-1zM259,654h1v13h-1zM263,654h1v12h-1zM267,654h1v12h-1zM271,654h1v12h-1zM275,654h1v11h-1zM279,654h1v11h-1zM283,654h1v10h-1zM287,654h1v10h-1zM291,654h1v10h-1zM295,654h1v9h-1zM299,654h1v8h-1zM303,654h1v7h-1zM307,654h1v6h-1zM311,654h1v4h-1zM315,654h1v1h-1zM319,654h1v1h-1zM323,653h1v1h-1zM327,653h1v1h-1zM331,652h1v2h-1zM335,651h1v3h-1zM339,651h1v3h-1zM343,650h1v4h-1zM347,650h1v4h-1zM351,650h1v4h-1zM355,650h1v4h-1zM359,650h1v4h-1zM363,651h1v3h-1zM367,652h1v2h-1zM371,653h1v1h-1zM375,654h1v1h-1zM379,654h1v1h-1zM383,654h1v2h-1zM387,654h1v2h-1zM391,654h1v2h-1zM395,654h1v2h-1zM399,654h1v3h-1zM403,654h1v6h-1zM407,654h1v6h-1zM411,654h1v6h-1zM415,654h1v6h-1zM419,654h1v5h-1zM423,654h1v5h-1zM427,654h1v4h-1zM431,654h1v4h-1zM435,654h1v3h-1zM439,654h1v2h-1zM443,654h1v1h-1zM447,654h1v1h-1zM451,654h1v1h-1zM455,654h1v1h-1zM459,653h1v1h-1zM463,652h1v2h-1zM467,651h1v3h-1zM471,650h1v4h-1zM475,650h1v4h-1zM479,650h1v4h-1zM483,650h1v4h-1zM487,650h1v4h-1zM491,649h1v5h-1zM495,649h1v5h-1zM499,648h1v6h-1zM503,648h1v6h-1zM507,647h1v7h-1zM511,647h1v7h-1zM515,646h1v8h-1zM519,646h1v8h-1zM523,646h1v8h-1zM527,646h1v8h-1zM531,647h1v7h-1zM535,648h1v6h-1zM539,650h1v4h-1zM543,652h1v2h-1zM547,653h1v1h-1zM551,654h1v1h-1zM555,654h1v1h-1zM559,654h1v1h-1zM563,654h1v1h-1zM567,654h1v1h-1zM571,654h1v1h-1zM575,654h1v1h-1zM579,654h1v2h-1zM583,654h1v2h-1zM587,654h1v3h-1zM591,654h1v4h-1zM595,654h1v4h-1zM599,654h1v4h-1zM603,654h1v5h-1zM607,654h1v5h-1zM611,654h1v5h-1zM615,654h1v4h-1zM619,654h1v3h-1zM623,654h1v2h-1zM627,654h1v1h-1zM631,654h1v1h-1zM635,654h1v1h-1zM639,653h1v1h-1zM643,653h1v1h-1zM647,652h1v2h-1zM651,652h1v2h-1zM655,651h1v3h-1zM659,651h1v3h-1zM663,651h1v3h-1zM667,651h1v3h-1zM671,650h1v4h-1zM675,650h1v4h-1zM679,649h1v5h-1zM683,649h1v5h-1zM687,648h1v6h-1zM691,648h1v6h-1zM695,647h1v7h-1zM699,646h1v8h-1zM703,646h1v8h-1zM707,645h1v9h-1zM711,643h1v11h-1zM715,643h1v11h-1zM719,643h1v11h-1zM723,643h1v11h-1zM727,644h1v10h-1zM731,645h1v9h-1zM735,649h1v5h-1zM739,652h1v2h-1zM743,654h1v1h-1zM747,654h1v1h-1zM751,654h1v1h-1zM755,654h1v1h-1zM759,654h1v1h-1zM763,654h1v1h-1zM767,654h1v1h-1zM771,654h1v1h-1zM775,654h1v1h-1zM779,654h1v1h-1zM783,654h1v2h-1zM787,654h1v2h-1zM791,654h1v2h-1zM795,654h1v3h-1zM799,654h1v3h-1zM803,654h1v6h-1zM807,654h1v8h-1zM811,654h1v9h-1zM815,654h1v11h-1zM819,654h1v12h-1zM823,654h1v14h-1zM827,654h1v13h-1zM831,654h1v13h-1zM835,654h1v13h-1zM839,654h1v13h-1zM843,654h1v12h-1zM847,654h1v12h-1zM851,654h1v12h-1zM855,654h1v11h-1zM859,654h1v11h-1zM863,654h1v10h-1zM867,654h1v9h-1zM871,654h1v9h-1zM875,654h1v9h-1zM879,654h1v9h-1zM883,654h1v9h-1zM887,654h1v9h-1zM891,654h1v9h-1zM895,654h1v9h-1zM899,654h1v10h-1zM903,654h1v10h-1zM907,654h1v12h-1zM911,654h1v14h-1zM915,654h1v17h-1zM919,654h1v17h-1zM923,654h1v17h-1zM927,654h1v14h-1zM931,654h1v12h-1zM935,654h1v11h-1zM939,654h1v10h-1zM943,654h1v9h-1zM947,654h1v7h-1zM951,654h1v9h-1zM955,654h1v12h-1zM959,654h1v17h-1zM963,654h1v22h-1zM967,654h1v27h-1zM971,654h1v33h-1zM975,654h1v38h-1zM979,654h1v44h-1zM983,654h1v50h-1zM987,654h1v54h-1zM991,654h1v58h-1zM995,654h1v60h-1zM999,654h1v58h-1zM1003,654h1v56h-1zM1007,654h1v53h-1zM1011,654h1v45h-1zM1015,654h1v39h-1zM1019,654h1v32h-1zM1023,654h1v29h-1zM1027,654h1v27h-1zM1031,654h1v25h-1zM1035,654h1v25h-1zM1039,654h1v24h-1zM1043,654h1v22h-1zM1047,654h1v17h-1zM1051,654h1v13h-1zM1055,654h1v6h-1zM1059,654h1v1h-1zM1063,654h1v1h-1zM1067,649h1v5h-1zM1071,645h1v9h-1zM1075,645h1v9h-1zM1079,644h1v10h-1zM1083,643h1v11h-1zM1087,642h1v12h-1zM1091,641h1v13h-1zM1095,642h1v12h-1zM1099,642h1v12h-1zM1103,642h1v12h-1zM1107,642h1v12h-1zM1111,641h1v13h-1zM1115,640h1v14h-1zM1119,638h1v16h-1zM1123,636h1v18h-1zM1127,636h1v18h-1zM1131,636h1v18h-1zM1135,638h1v16h-1zM1139,639h1v15h-1zM1143,640h1v14h-1zM1147,641h1v13h-1zM1151,640h1v14h-1zM1155,638h1v16h-1zM1159,638h1v16h-1zM1163,639h1v15h-1zM1167,639h1v15h-1zM1171,640h1v14h-1zM1175,643h1v11h-1zM1179,645h1v9h-1zM1183,646h1v8h-1zM1187,645h1v9h-1zM1191,645h1v9h-1zM1195,643h1v11h-1zM1199,642h1v12h-1zM1203,642h1v12h-1zM1207,642h1v12h-1zM1211,643h1v11h-1z" fill="#c0c0c0" shape-rendering="crispEdges"/>
<polyline points="7.7,658.2 15.3,655.6 25.6,654.3 33.2,655.6 40.9,656.9 51.2,658.2 61.4,658.7 69.1,658.2 76.7,655.6 87.0,653.6 94.6,651.5 102.3,651.0 127.9,651.0 153.5,650.0 166.2,649.7 176.5,650.5 184.1,653.1 194.4,656.6 204.6,660.7 214.8,665.1 225.1,666.9 235.3,668.4 245.5,668.4 255.8,667.9 266.0,666.4 276.2,665.1 286.4,664.3 296.7,663.8 306.9,662.5 317.1,660.7 327.4,657.4 337.6,654.3 347.8,651.5 358.1,650.3 368.3,650.3 378.5,652.3 388.7,654.3 400.0,657.4 403.8,658.2 412.8,659.2 425.6,659.2 438.4,658.2 451.2,656.9 461.4,655.6 474.2,652.8 487.0,651.0 502.3,649.0 515.1,647.4 527.9,646.7 538.1,646.4 548.3,647.4 558.6,650.3 568.8,653.1 579.0,654.3 589.3,655.6 602.0,657.4 612.3,658.2 619.9,657.9 630.2,656.1 643.0,654.9 655.8,652.8 668.5,651.5 681.3,649.7 694.1,648.5 704.3,646.4 714.6,644.6 724.8,643.3 737.6,643.3 747.8,645.9 758.1,650.3 768.3,652.3 778.5,653.6 788.7,654.3 800.0,655.6 802.6,656.6 810.2,659.2 820.5,661.2 830.7,665.9 840.9,667.1 851.2,667.6 861.4,667.1 871.6,665.6 881.8,664.6 892.1,663.8 902.3,664.3 912.5,665.9 922.8,668.2 933.0,668.9 943.2,668.4 950.9,666.4 958.6,666.4 968.8,668.4 976.5,675.3 984.1,683.0 991.8,693.2 999.5,702.2 1007.2,707.3 1012.3,708.6 1019.9,704.7 1027.6,698.3 1035.3,690.7 1043.0,684.3 1050.6,678.6 1055.8,676.1 1063.4,669.7 1071.1,662.5 1078.8,655.6 1086.4,649.7 1094.1,645.4 1101.8,642.8 1112.0,642.1 1122.3,640.3 1132.5,638.2 1145.3,637.5 1158.1,637.5 1168.3,638.7 1178.5,640.0 1188.7,641.3 1200.0,642.6 1204.9,642.3 1211.0,642.3" fill="none" stroke="#ff0000" stroke-width="1" stroke-dasharray="3,3" shape-rendering="crispEdges"/>
</svg>
<div class="lb" style="top:210px;background:#000">0.65332</div>
<div class="hl" style="top:45px;background:#ff0000"></div>
<div class="mk" style="left:6px;top:43px;border-color:#ff0000"></div>
<div class="mk" style="left:1516px;top:43px;border-color:#ff0000"></div>
<div class="lb" style="top:40px;background:#ff0000">0.71016</div>
<div class="hl" style="top:98px;background:#ff0000"></div>
<div class="mk" style="left:6px;top:96px;border-color:#ff0000"></div>
<div class="mk" style="left:1516px;top:96px;border-color:#ff0000"></div>
<div class="lb" style="top:93px;background:#ff0000">0.69218</div>
<div class="hl" style="top:164px;background:#ff0000"></div>
<div class="mk" style="left:6px;top:162px;border-color:#ff0000"></div>
<div class="mk" style="left:1516px;top:162px;border-color:#ff0000"></div>
<div class="lb" style="top:159px;background:#ff0000">0.67003</div>
<div class="hl" style="top:223px;background:#00ff00"></div>
<div class="mk" style="left:6px;top:221px;border-color:#00ff00"></div>
<div class="mk" style="left:1516px;top:221px;border-color:#00ff00"></div>
<div class="lb" style="top:218px;background:#00ff00">0.65024</div>
<div class="hl" style="top:283px;background:#0000ff"></div>
<div class="mk" style="left:6px;top:281px;border-color:#0000ff"></div>
<div class="mk" style="left:1516px;top:281px;border-color:#0000ff"></div>
<div class="lb" style="top:278px;background:#0000ff">0.63011</div>
<div class="hl" style="top:341px;background:#0000ff"></div>
<div class="lb" style="top:336px;background:#0000ff">0.61065</div>
<svg width="12" height="8" style="left:10px;top:33px"><path d="M0,1 L7.5,1 L3.75,5.5 Z" fill="#000"/></svg>
<span class="it" style="left:22.5px;top:30px;letter-spacing:0.10px">AUDUSD,Daily</span>
<span class="it" style="left:94px;top:30px;letter-spacing:-0.16px">0.65385 0.65493 0.65291 0.65332</span>
<span class="it" style="left:11.2px;top:538px;letter-spacing:-0.16px">RSI(14) 56.8173</span>
<span class="it" style="left:11.2px;top:632px;letter-spacing:-0.10px">MACD(12,26,9) 0.004346 0.004080</span>
<svg width="12" height="8" style="left:1212px;top:27px"><path d="M1,1 L10,1 L5.5,6 Z" fill="#c0c0c0"/></svg>
<div class="dk" style="left:7px"></div><span class="dt" style="left:6px">8 Jun 2019</span>
<div class="dk" style="left:71px"></div><span class="dt" style="left:70px">27 Jun 2019</span>
<div class="dk" style="left:135px"></div><span class="dt" style="left:134px">16 Jul 2019</span>
<div class="dk" style="left:199px"></div><span class="dt" style="left:198px">3 Aug 2019</span>
<div class="dk" style="left:263px"></div><span class="dt" style="left:262px">22 Aug 2019</span>
<div class="dk" style="left:327px"></div><span class="dt" style="left:326px">10 Sep 2019</span>
<div class="dk" style="left:391px"></div><span class="dt" style="left:390px">28 Sep 2019</span>
<div class="dk" style="left:455px"></div><span class="dt" style="left:454px">17 Oct 2019</span>
<div class="dk" style="left:519px"></div><span class="dt" style="left:518px">5 Nov 2019</span>
<div class="dk" style="left:583px"></div><span class="dt" style="left:582px">23 Nov 2019</span>
<div class="dk" style="left:647px"></div><span class="dt" style="left:646px">12 Dec 2019</span>
<div class="dk" style="left:711px"></div><span class="dt" style="left:710px">31 Dec 2019</span>
<div class="dk" style="left:775px"></div><span class="dt" style="left:774px">18 Jan 2020</span>
<div class="dk" style="left:839px"></div><span class="dt" style="left:838px">6 Feb 2020</span>
<div class="dk" style="left:903px"></div><span class="dt" style="left:902px">25 Feb 2020</span>
<div class="dk" style="left:967px"></div><span class="dt" style="left:966px">14 Mar 2020</span>
<div class="dk" style="left:1031px"></div><span class="dt" style="left:1030px">2 Apr 2020</span>
<div class="dk" style="left:1095px"></div><span class="dt" style="left:1094px">21 Apr 2020</span>
<div class="dk" style="left:1159px"></div><span class="dt" style="left:1158px">9 May 2020</span>
<div style="left:0;top:741px;width:1564px;height:1px;background:#e3e3e3"></div>
<div style="left:0;top:742px;width:1564px;height:1px;background:#fff"></div>
<div style="left:0;top:743px;width:1564px;height:25px;background:#f0f0f0"></div>
<div style="left:2px;top:743px;width:1562px;height:1px;background:#000"></div>
<div style="left:0;top:763px;width:1564px;height:3px;background:#fafafa"></div>
<div style="left:0;top:766px;width:1564px;height:2px;background:#b4b4b4"></div>
<div style="left:2px;top:744px;width:1px;height:19px;background:#a8a8a8"></div>
<div style="left:3px;top:744px;width:1px;height:19px;background:#707070"></div>
<div style="left:0;top:762px;width:3px;height:1px;background:#909090"></div>
<div style="left:212px;top:743px;width:104px;height:19px;background:#fff;border:1px solid #000;border-top:none"></div>
<span class="bt" style="left:19.7px;letter-spacing:-0.57px">EURUSD,Daily</span>
<span class="bt" style="left:121.7px;letter-spacing:-0.48px">USDCHF,Daily</span>
<span class="bt" style="left:222.2px;letter-spacing:-0.37px;color:#000">AUDUSD,Daily</span>
<span class="bt" style="left:326.8px;letter-spacing:-0.50px">USDCAD,Daily</span>
<span class="bt" style="left:429.6px;letter-spacing:-0.39px">USDCNH,Daily</span>
<span class="bt" style="left:535.0px;letter-spacing:-0.48px">EURUSD,Daily</span>
<span class="bt" style="left:639.6px;letter-spacing:-0.59px">GBPUSD,Daily</span>
<span class="bt" style="left:742.4px;letter-spacing:-0.53px">XAUUSD,H4</span>
<span class="bt" style="left:834.5px;letter-spacing:-0.38px">HK50,H1</span>
<span class="bt" style="left:906.6px;letter-spacing:-0.40px">UK100,H1</span>
<span class="bt" style="left:986.8px;letter-spacing:-0.37px">UK100,H1</span>
<span class="bt" style="left:1066.6px;letter-spacing:-0.69px">GER30,H1</span>
<span class="bt" style="left:1145.9px;letter-spacing:-0.75px">FRA40,H1</span>
<span class="bt" style="left:1221.9px;letter-spacing:-0.42px">USOil,H1</span>
<span class="bt" style="left:1293.7px;letter-spacing:-0.83px">USDJPY,H1</span>
<span class="bt" style="left:1377.9px;letter-spacing:-0.36px">DJ30,Daily</span>
<div class="bs" style="left:112px"></div>
<div class="bs" style="left:420px"></div>
<div class="bs" style="left:524px"></div>
<div class="bs" style="left:628px"></div>
<div class="bs" style="left:732px"></div>
<div class="bs" style="left:824px"></div>
<div class="bs" style="left:896px"></div>
<div class="bs" style="left:976px"></div>
<div class="bs" style="left:1056px"></div>
<div class="bs" style="left:1136px"></div>
<div class="bs" style="left:1212px"></div>
<div class="bs" style="left:1284px"></div>
<div class="bs" style="left:1368px"></div>
<div class="bs" style="left:1448px"></div>
<svg width="30" height="12" style="left:1534px;top:746px"><path d="M8,3 L8,10 L4.5,6.5 Z M22.5,3 L22.5,10 L26,6.5 Z" fill="#999"/></svg>
</body></html>
